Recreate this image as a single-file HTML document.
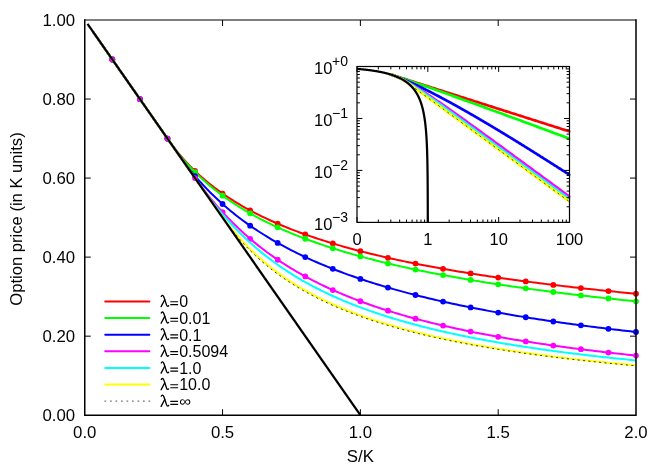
<!DOCTYPE html>
<html><head><meta charset="utf-8"><title>Option price</title>
<style>html,body{margin:0;padding:0;background:#fff;}svg{display:block;}text{font-family:"Liberation Sans",sans-serif;fill:#000;}.t{opacity:0.999;}</style></head><body>
<svg width="664" height="465">
<rect width="664" height="465" fill="#fff"/>
<g fill="none" stroke-linejoin="round" stroke-linecap="butt">
<path d="M93.02,31.86 L94.34,33.75 L95.66,35.64 L96.98,37.53 L98.30,39.43 L99.62,41.32 L100.94,43.21 L102.26,45.11 L103.58,47.00 L104.90,48.89 L106.22,50.79 L107.54,52.68 L108.86,54.57 L110.18,56.46 L111.50,58.36 L112.82,60.25 L114.14,62.14 L115.46,64.04 L116.78,65.93 L118.10,67.82 L119.42,69.72 L120.74,71.61 L122.06,73.50 L123.38,75.39 L124.70,77.29 L126.02,79.18 L127.34,81.07 L128.66,82.97 L129.98,84.86 L131.31,86.75 L132.63,88.65 L133.95,90.54 L135.27,92.43 L136.59,94.32 L137.91,96.22 L139.23,98.11 L140.55,100.00 L141.87,101.90 L143.19,103.79 L144.51,105.68 L145.83,107.57 L147.15,109.47 L148.47,111.36 L149.79,113.25 L151.11,115.15 L152.43,117.04 L153.75,118.93 L155.07,120.83 L156.39,122.72 L157.71,124.61 L159.03,126.50 L160.35,128.40 L161.67,130.29 L162.99,132.18 L164.31,134.08 L165.63,135.97 L166.95,137.86 L168.27,139.76 L169.59,141.62 L170.91,143.45 L172.23,145.24 L173.55,146.99 L174.87,148.70 L176.19,150.38 L177.51,152.02 L178.83,153.63 L180.15,155.21 L181.47,156.75 L182.79,158.27 L184.11,159.76 L185.43,161.21 L186.75,162.65 L188.07,164.05 L189.39,165.43 L190.72,166.79 L192.04,168.12 L193.36,169.43 L194.68,170.71 L196.00,171.98 L197.32,173.22 L198.64,174.44 L199.96,175.64 L201.28,176.82 L202.60,177.99 L203.92,179.13 L205.24,180.26 L206.56,181.36 L207.88,182.46 L209.20,183.53 L210.52,184.59 L211.84,185.63 L213.16,186.66 L214.48,187.67 L215.80,188.67 L217.12,189.65 L218.44,190.62 L219.76,191.58 L221.08,192.52 L222.40,193.45 L223.72,194.37 L225.04,195.27 L226.36,196.16 L227.68,197.04 L229.00,197.91 L230.32,198.77 L231.64,199.62 L232.96,200.45 L234.28,201.28 L235.60,202.09 L236.92,202.90 L238.24,203.69 L239.56,204.47 L240.88,205.25 L242.20,206.02 L243.52,206.77 L244.84,207.52 L246.16,208.26 L247.48,208.99 L248.80,209.71 L250.12,210.42 L252.88,211.89 L255.64,213.32 L258.39,214.71 L261.15,216.08 L263.91,217.42 L266.66,218.72 L269.42,220.00 L272.17,221.25 L274.93,222.48 L277.69,223.68 L280.44,224.85 L283.20,226.00 L285.96,227.13 L288.71,228.24 L291.47,229.33 L294.23,230.39 L296.98,231.44 L299.74,232.46 L302.49,233.47 L305.25,234.46 L308.01,235.43 L310.76,236.39 L313.52,237.32 L316.27,238.25 L319.03,239.15 L321.79,240.04 L324.54,240.92 L327.30,241.78 L330.06,242.63 L332.81,243.47 L335.57,244.29 L338.32,245.10 L341.08,245.89 L343.84,246.68 L346.59,247.45 L349.35,248.21 L352.11,248.96 L354.86,249.70 L357.62,250.43 L360.38,251.14 L363.13,251.85 L365.89,252.55 L368.64,253.23 L371.40,253.91 L374.16,254.58 L376.91,255.24 L379.67,255.89 L382.43,256.53 L385.18,257.17 L387.94,257.79 L390.69,258.41 L393.45,259.02 L396.21,259.62 L398.96,260.21 L401.72,260.80 L404.48,261.38 L407.23,261.95 L409.99,262.51 L412.74,263.07 L415.50,263.62 L418.26,264.17 L421.01,264.71 L423.77,265.24 L426.52,265.77 L429.28,266.29 L432.04,266.80 L434.79,267.31 L437.55,267.81 L440.31,268.31 L443.06,268.80 L445.82,269.28 L448.57,269.77 L451.33,270.24 L454.09,270.71 L456.84,271.18 L459.60,271.64 L462.36,272.09 L465.11,272.54 L467.87,272.99 L470.62,273.43 L473.38,273.87 L476.14,274.30 L478.89,274.73 L481.65,275.16 L484.41,275.58 L487.16,275.99 L489.92,276.40 L492.68,276.81 L495.43,277.21 L498.19,277.61 L500.94,278.01 L503.70,278.40 L506.46,278.79 L509.21,279.18 L511.97,279.56 L514.73,279.94 L517.48,280.31 L520.24,280.68 L522.99,281.05 L525.75,281.41 L528.51,281.78 L531.26,282.13 L534.02,282.49 L536.78,282.84 L539.53,283.19 L542.29,283.54 L545.04,283.88 L547.80,284.22 L550.56,284.55 L553.31,284.89 L556.07,285.22 L558.83,285.55 L561.58,285.87 L564.34,286.20 L567.09,286.52 L569.85,286.84 L572.61,287.15 L575.36,287.46 L578.12,287.77 L580.88,288.08 L583.63,288.39 L586.39,288.69 L589.14,288.99 L591.90,289.29 L594.66,289.58 L597.41,289.88 L600.17,290.17 L602.92,290.46 L605.68,290.75 L608.44,291.03 L611.19,291.31 L613.95,291.59 L616.71,291.87 L619.46,292.15 L622.22,292.42 L624.98,292.69 L627.73,292.96 L630.49,293.23 L633.24,293.50 L636.00,293.76" stroke="#ff0000" stroke-width="2"/>
<circle cx="112.31" cy="59.52" r="2.9" fill="#ff0000" stroke="none"/>
<circle cx="139.88" cy="99.04" r="2.9" fill="#ff0000" stroke="none"/>
<circle cx="167.44" cy="138.56" r="2.9" fill="#ff0000" stroke="none"/>
<circle cx="195.00" cy="171.02" r="2.9" fill="#ff0000" stroke="none"/>
<circle cx="222.56" cy="193.56" r="2.9" fill="#ff0000" stroke="none"/>
<circle cx="250.12" cy="210.42" r="2.9" fill="#ff0000" stroke="none"/>
<circle cx="277.69" cy="223.68" r="2.9" fill="#ff0000" stroke="none"/>
<circle cx="305.25" cy="234.46" r="2.9" fill="#ff0000" stroke="none"/>
<circle cx="332.81" cy="243.47" r="2.9" fill="#ff0000" stroke="none"/>
<circle cx="360.38" cy="251.14" r="2.9" fill="#ff0000" stroke="none"/>
<circle cx="387.94" cy="257.79" r="2.9" fill="#ff0000" stroke="none"/>
<circle cx="415.50" cy="263.62" r="2.9" fill="#ff0000" stroke="none"/>
<circle cx="443.06" cy="268.80" r="2.9" fill="#ff0000" stroke="none"/>
<circle cx="470.62" cy="273.43" r="2.9" fill="#ff0000" stroke="none"/>
<circle cx="498.19" cy="277.61" r="2.9" fill="#ff0000" stroke="none"/>
<circle cx="525.75" cy="281.41" r="2.9" fill="#ff0000" stroke="none"/>
<circle cx="553.31" cy="284.89" r="2.9" fill="#ff0000" stroke="none"/>
<circle cx="580.88" cy="288.08" r="2.9" fill="#ff0000" stroke="none"/>
<circle cx="608.44" cy="291.03" r="2.9" fill="#ff0000" stroke="none"/>
<circle cx="636.00" cy="293.76" r="2.9" fill="#ff0000" stroke="none"/>
<path d="M93.02,31.86 L94.34,33.75 L95.66,35.64 L96.98,37.53 L98.30,39.43 L99.62,41.32 L100.94,43.21 L102.26,45.11 L103.58,47.00 L104.90,48.89 L106.22,50.79 L107.54,52.68 L108.86,54.57 L110.18,56.46 L111.50,58.36 L112.82,60.25 L114.14,62.14 L115.46,64.04 L116.78,65.93 L118.10,67.82 L119.42,69.72 L120.74,71.61 L122.06,73.50 L123.38,75.39 L124.70,77.29 L126.02,79.18 L127.34,81.07 L128.66,82.97 L129.98,84.86 L131.31,86.75 L132.63,88.65 L133.95,90.54 L135.27,92.43 L136.59,94.32 L137.91,96.22 L139.23,98.11 L140.55,100.00 L141.87,101.90 L143.19,103.79 L144.51,105.68 L145.83,107.57 L147.15,109.47 L148.47,111.36 L149.79,113.25 L151.11,115.15 L152.43,117.04 L153.75,118.93 L155.07,120.83 L156.39,122.72 L157.71,124.61 L159.03,126.50 L160.35,128.40 L161.67,130.29 L162.99,132.18 L164.31,134.08 L165.63,135.97 L166.95,137.86 L168.27,139.76 L169.59,141.65 L170.91,143.53 L172.23,145.38 L173.55,147.18 L174.87,148.95 L176.19,150.68 L177.51,152.38 L178.83,154.05 L180.15,155.68 L181.47,157.28 L182.79,158.85 L184.11,160.39 L185.43,161.90 L186.75,163.39 L188.07,164.85 L189.39,166.28 L190.72,167.69 L192.04,169.07 L193.36,170.43 L194.68,171.77 L196.00,173.08 L197.32,174.38 L198.64,175.65 L199.96,176.90 L201.28,178.13 L202.60,179.35 L203.92,180.54 L205.24,181.72 L206.56,182.87 L207.88,184.01 L209.20,185.14 L210.52,186.24 L211.84,187.33 L213.16,188.41 L214.48,189.47 L215.80,190.51 L217.12,191.54 L218.44,192.56 L219.76,193.56 L221.08,194.55 L222.40,195.52 L223.72,196.48 L225.04,197.43 L226.36,198.37 L227.68,199.29 L229.00,200.21 L230.32,201.11 L231.64,202.00 L232.96,202.87 L234.28,203.74 L235.60,204.60 L236.92,205.44 L238.24,206.28 L239.56,207.11 L240.88,207.92 L242.20,208.73 L243.52,209.52 L244.84,210.31 L246.16,211.09 L247.48,211.86 L248.80,212.62 L250.12,213.37 L252.88,214.91 L255.64,216.42 L258.39,217.89 L261.15,219.34 L263.91,220.74 L266.66,222.12 L269.42,223.47 L272.17,224.79 L274.93,226.09 L277.69,227.35 L280.44,228.60 L283.20,229.81 L285.96,231.01 L288.71,232.18 L291.47,233.33 L294.23,234.45 L296.98,235.56 L299.74,236.64 L302.49,237.71 L305.25,238.75 L308.01,239.78 L310.76,240.79 L313.52,241.79 L316.27,242.76 L319.03,243.72 L321.79,244.66 L324.54,245.59 L327.30,246.50 L330.06,247.40 L332.81,248.28 L335.57,249.15 L338.32,250.01 L341.08,250.85 L343.84,251.68 L346.59,252.50 L349.35,253.30 L352.11,254.10 L354.86,254.88 L357.62,255.65 L360.38,256.41 L363.13,257.15 L365.89,257.89 L368.64,258.62 L371.40,259.34 L374.16,260.04 L376.91,260.74 L379.67,261.43 L382.43,262.11 L385.18,262.78 L387.94,263.44 L390.69,264.09 L393.45,264.74 L396.21,265.37 L398.96,266.00 L401.72,266.62 L404.48,267.23 L407.23,267.84 L409.99,268.43 L412.74,269.02 L415.50,269.61 L418.26,270.18 L421.01,270.75 L423.77,271.31 L426.52,271.87 L429.28,272.42 L432.04,272.96 L434.79,273.50 L437.55,274.03 L440.31,274.55 L443.06,275.07 L445.82,275.59 L448.57,276.09 L451.33,276.59 L454.09,277.09 L456.84,277.58 L459.60,278.07 L462.36,278.55 L465.11,279.02 L467.87,279.50 L470.62,279.96 L473.38,280.42 L476.14,280.88 L478.89,281.33 L481.65,281.78 L484.41,282.22 L487.16,282.66 L489.92,283.09 L492.68,283.52 L495.43,283.95 L498.19,284.37 L500.94,284.79 L503.70,285.20 L506.46,285.61 L509.21,286.02 L511.97,286.42 L514.73,286.81 L517.48,287.21 L520.24,287.60 L522.99,287.99 L525.75,288.37 L528.51,288.75 L531.26,289.13 L534.02,289.50 L536.78,289.87 L539.53,290.24 L542.29,290.60 L545.04,290.96 L547.80,291.32 L550.56,291.67 L553.31,292.02 L556.07,292.37 L558.83,292.72 L561.58,293.06 L564.34,293.40 L567.09,293.73 L569.85,294.07 L572.61,294.40 L575.36,294.73 L578.12,295.05 L580.88,295.38 L583.63,295.70 L586.39,296.01 L589.14,296.33 L591.90,296.64 L594.66,296.95 L597.41,297.26 L600.17,297.57 L602.92,297.87 L605.68,298.17 L608.44,298.47 L611.19,298.76 L613.95,299.06 L616.71,299.35 L619.46,299.64 L622.22,299.93 L624.98,300.21 L627.73,300.50 L630.49,300.78 L633.24,301.06 L636.00,301.33" stroke="#00ff00" stroke-width="2"/>
<circle cx="112.31" cy="59.52" r="2.9" fill="#00ff00" stroke="none"/>
<circle cx="139.88" cy="99.04" r="2.9" fill="#00ff00" stroke="none"/>
<circle cx="167.44" cy="138.56" r="2.9" fill="#00ff00" stroke="none"/>
<circle cx="195.00" cy="172.09" r="2.9" fill="#00ff00" stroke="none"/>
<circle cx="222.56" cy="195.64" r="2.9" fill="#00ff00" stroke="none"/>
<circle cx="250.12" cy="213.37" r="2.9" fill="#00ff00" stroke="none"/>
<circle cx="277.69" cy="227.35" r="2.9" fill="#00ff00" stroke="none"/>
<circle cx="305.25" cy="238.75" r="2.9" fill="#00ff00" stroke="none"/>
<circle cx="332.81" cy="248.28" r="2.9" fill="#00ff00" stroke="none"/>
<circle cx="360.38" cy="256.41" r="2.9" fill="#00ff00" stroke="none"/>
<circle cx="387.94" cy="263.44" r="2.9" fill="#00ff00" stroke="none"/>
<circle cx="415.50" cy="269.61" r="2.9" fill="#00ff00" stroke="none"/>
<circle cx="443.06" cy="275.07" r="2.9" fill="#00ff00" stroke="none"/>
<circle cx="470.62" cy="279.96" r="2.9" fill="#00ff00" stroke="none"/>
<circle cx="498.19" cy="284.37" r="2.9" fill="#00ff00" stroke="none"/>
<circle cx="525.75" cy="288.37" r="2.9" fill="#00ff00" stroke="none"/>
<circle cx="553.31" cy="292.02" r="2.9" fill="#00ff00" stroke="none"/>
<circle cx="580.88" cy="295.38" r="2.9" fill="#00ff00" stroke="none"/>
<circle cx="608.44" cy="298.47" r="2.9" fill="#00ff00" stroke="none"/>
<circle cx="636.00" cy="301.33" r="2.9" fill="#00ff00" stroke="none"/>
<path d="M93.02,31.86 L94.34,33.75 L95.66,35.64 L96.98,37.53 L98.30,39.43 L99.62,41.32 L100.94,43.21 L102.26,45.11 L103.58,47.00 L104.90,48.89 L106.22,50.79 L107.54,52.68 L108.86,54.57 L110.18,56.46 L111.50,58.36 L112.82,60.25 L114.14,62.14 L115.46,64.04 L116.78,65.93 L118.10,67.82 L119.42,69.72 L120.74,71.61 L122.06,73.50 L123.38,75.39 L124.70,77.29 L126.02,79.18 L127.34,81.07 L128.66,82.97 L129.98,84.86 L131.31,86.75 L132.63,88.65 L133.95,90.54 L135.27,92.43 L136.59,94.32 L137.91,96.22 L139.23,98.11 L140.55,100.00 L141.87,101.90 L143.19,103.79 L144.51,105.68 L145.83,107.57 L147.15,109.47 L148.47,111.36 L149.79,113.25 L151.11,115.15 L152.43,117.04 L153.75,118.93 L155.07,120.83 L156.39,122.72 L157.71,124.61 L159.03,126.50 L160.35,128.40 L161.67,130.29 L162.99,132.18 L164.31,134.08 L165.63,135.97 L166.95,137.86 L168.27,139.76 L169.59,141.65 L170.91,143.54 L172.23,145.43 L173.55,147.33 L174.87,149.22 L176.19,151.11 L177.51,153.01 L178.83,154.90 L180.15,156.79 L181.47,158.65 L182.79,160.47 L184.11,162.27 L185.43,164.04 L186.75,165.78 L188.07,167.49 L189.39,169.17 L190.72,170.83 L192.04,172.46 L193.36,174.07 L194.68,175.65 L196.00,177.03 L197.32,178.56 L198.64,180.06 L199.96,181.55 L201.28,183.01 L202.60,184.45 L203.92,185.87 L205.24,187.27 L206.56,188.65 L207.88,190.02 L209.20,191.36 L210.52,192.69 L211.84,194.00 L213.16,195.29 L214.48,196.56 L215.80,197.82 L217.12,199.06 L218.44,200.29 L219.76,201.50 L221.08,202.70 L222.40,203.88 L223.72,205.04 L225.04,206.20 L226.36,207.33 L227.68,208.46 L229.00,209.57 L230.32,210.66 L231.64,211.75 L232.96,212.82 L234.28,213.88 L235.60,214.92 L236.92,215.96 L238.24,216.98 L239.56,217.99 L240.88,218.99 L242.20,219.98 L243.52,220.96 L244.84,221.92 L246.16,222.88 L247.48,223.82 L248.80,224.76 L250.12,225.68 L252.88,227.58 L255.64,229.43 L258.39,231.25 L261.15,233.03 L263.91,234.76 L266.66,236.47 L269.42,238.13 L272.17,239.77 L274.93,241.37 L277.69,242.94 L280.44,244.47 L283.20,245.98 L285.96,247.46 L288.71,248.91 L291.47,250.33 L294.23,251.73 L296.98,253.10 L299.74,254.44 L302.49,255.76 L305.25,257.06 L308.01,258.34 L310.76,259.59 L313.52,260.82 L316.27,262.03 L319.03,263.22 L321.79,264.39 L324.54,265.54 L327.30,266.67 L330.06,267.78 L332.81,268.87 L335.57,269.95 L338.32,271.01 L341.08,272.05 L343.84,273.07 L346.59,274.08 L349.35,275.08 L352.11,276.05 L354.86,277.02 L357.62,277.97 L360.38,278.90 L363.13,279.82 L365.89,280.73 L368.64,281.62 L371.40,282.50 L374.16,283.37 L376.91,284.22 L379.67,285.07 L382.43,285.90 L385.18,286.72 L387.94,287.53 L390.69,288.32 L393.45,289.11 L396.21,289.88 L398.96,290.65 L401.72,291.40 L404.48,292.15 L407.23,292.88 L409.99,293.60 L412.74,294.32 L415.50,295.02 L418.26,295.72 L421.01,296.41 L423.77,297.09 L426.52,297.76 L429.28,298.42 L432.04,299.07 L434.79,299.72 L437.55,300.35 L440.31,300.98 L443.06,301.60 L445.82,302.22 L448.57,302.82 L451.33,303.42 L454.09,304.02 L456.84,304.60 L459.60,305.18 L462.36,305.75 L465.11,306.32 L467.87,306.87 L470.62,307.43 L473.38,307.97 L476.14,308.51 L478.89,309.04 L481.65,309.57 L484.41,310.09 L487.16,310.61 L489.92,311.12 L492.68,311.62 L495.43,312.12 L498.19,312.62 L500.94,313.10 L503.70,313.59 L506.46,314.06 L509.21,314.54 L511.97,315.01 L514.73,315.47 L517.48,315.93 L520.24,316.38 L522.99,316.83 L525.75,317.27 L528.51,317.71 L531.26,318.15 L534.02,318.58 L536.78,319.01 L539.53,319.43 L542.29,319.85 L545.04,320.26 L547.80,320.67 L550.56,321.08 L553.31,321.48 L556.07,321.88 L558.83,322.27 L561.58,322.66 L564.34,323.05 L567.09,323.43 L569.85,323.81 L572.61,324.19 L575.36,324.56 L578.12,324.93 L580.88,325.30 L583.63,325.66 L586.39,326.02 L589.14,326.38 L591.90,326.73 L594.66,327.08 L597.41,327.43 L600.17,327.77 L602.92,328.11 L605.68,328.45 L608.44,328.78 L611.19,329.12 L613.95,329.44 L616.71,329.77 L619.46,330.09 L622.22,330.41 L624.98,330.73 L627.73,331.05 L630.49,331.36 L633.24,331.67 L636.00,331.98" stroke="#0000ff" stroke-width="2"/>
<circle cx="112.31" cy="59.52" r="2.9" fill="#0000ff" stroke="none"/>
<circle cx="139.88" cy="99.04" r="2.9" fill="#0000ff" stroke="none"/>
<circle cx="167.44" cy="138.56" r="2.9" fill="#0000ff" stroke="none"/>
<circle cx="195.00" cy="176.03" r="2.9" fill="#0000ff" stroke="none"/>
<circle cx="222.56" cy="204.02" r="2.9" fill="#0000ff" stroke="none"/>
<circle cx="250.12" cy="225.68" r="2.9" fill="#0000ff" stroke="none"/>
<circle cx="277.69" cy="242.94" r="2.9" fill="#0000ff" stroke="none"/>
<circle cx="305.25" cy="257.06" r="2.9" fill="#0000ff" stroke="none"/>
<circle cx="332.81" cy="268.87" r="2.9" fill="#0000ff" stroke="none"/>
<circle cx="360.38" cy="278.90" r="2.9" fill="#0000ff" stroke="none"/>
<circle cx="387.94" cy="287.53" r="2.9" fill="#0000ff" stroke="none"/>
<circle cx="415.50" cy="295.02" r="2.9" fill="#0000ff" stroke="none"/>
<circle cx="443.06" cy="301.60" r="2.9" fill="#0000ff" stroke="none"/>
<circle cx="470.62" cy="307.43" r="2.9" fill="#0000ff" stroke="none"/>
<circle cx="498.19" cy="312.62" r="2.9" fill="#0000ff" stroke="none"/>
<circle cx="525.75" cy="317.27" r="2.9" fill="#0000ff" stroke="none"/>
<circle cx="553.31" cy="321.48" r="2.9" fill="#0000ff" stroke="none"/>
<circle cx="580.88" cy="325.30" r="2.9" fill="#0000ff" stroke="none"/>
<circle cx="608.44" cy="328.78" r="2.9" fill="#0000ff" stroke="none"/>
<circle cx="636.00" cy="331.98" r="2.9" fill="#0000ff" stroke="none"/>
<path d="M93.02,31.86 L94.34,33.75 L95.66,35.64 L96.98,37.53 L98.30,39.43 L99.62,41.32 L100.94,43.21 L102.26,45.11 L103.58,47.00 L104.90,48.89 L106.22,50.79 L107.54,52.68 L108.86,54.57 L110.18,56.46 L111.50,58.36 L112.82,60.25 L114.14,62.14 L115.46,64.04 L116.78,65.93 L118.10,67.82 L119.42,69.72 L120.74,71.61 L122.06,73.50 L123.38,75.39 L124.70,77.29 L126.02,79.18 L127.34,81.07 L128.66,82.97 L129.98,84.86 L131.31,86.75 L132.63,88.65 L133.95,90.54 L135.27,92.43 L136.59,94.32 L137.91,96.22 L139.23,98.11 L140.55,100.00 L141.87,101.90 L143.19,103.79 L144.51,105.68 L145.83,107.57 L147.15,109.47 L148.47,111.36 L149.79,113.25 L151.11,115.15 L152.43,117.04 L153.75,118.93 L155.07,120.83 L156.39,122.72 L157.71,124.61 L159.03,126.50 L160.35,128.40 L161.67,130.29 L162.99,132.18 L164.31,134.08 L165.63,135.97 L166.95,137.86 L168.27,139.76 L169.59,141.65 L170.91,143.54 L172.23,145.43 L173.55,147.33 L174.87,149.22 L176.19,151.11 L177.51,153.01 L178.83,154.90 L180.15,156.79 L181.47,158.69 L182.79,160.58 L184.11,162.47 L185.43,164.36 L186.75,166.26 L188.07,168.15 L189.39,170.04 L190.72,171.94 L192.04,173.83 L193.36,175.72 L194.68,177.59 L196.00,179.44 L197.32,181.26 L198.64,183.06 L199.96,184.84 L201.28,186.59 L202.60,188.32 L203.92,190.04 L205.24,191.73 L206.56,193.40 L207.88,195.05 L209.20,196.68 L210.52,198.29 L211.84,199.88 L213.16,201.46 L214.48,203.01 L215.80,204.55 L217.12,206.07 L218.44,207.57 L219.76,209.06 L221.08,210.52 L222.40,211.97 L223.72,213.41 L225.04,214.82 L226.36,216.22 L227.68,217.61 L229.00,218.97 L230.32,220.32 L231.64,221.66 L232.96,222.98 L234.28,224.28 L235.60,225.57 L236.92,226.84 L238.24,228.10 L239.56,229.35 L240.88,230.58 L242.20,231.79 L243.52,232.99 L244.84,234.18 L246.16,235.35 L247.48,236.51 L248.80,237.66 L250.12,238.79 L252.88,241.11 L255.64,243.38 L258.39,245.60 L261.15,247.76 L263.91,249.87 L266.66,251.94 L269.42,253.95 L272.17,255.92 L274.93,257.85 L277.69,259.73 L280.44,261.57 L283.20,263.37 L285.96,265.14 L288.71,266.86 L291.47,268.54 L294.23,270.19 L296.98,271.81 L299.74,273.39 L302.49,274.94 L305.25,276.45 L308.01,277.94 L310.76,279.39 L313.52,280.82 L316.27,282.21 L319.03,283.58 L321.79,284.93 L324.54,286.24 L327.30,287.53 L330.06,288.80 L332.81,290.04 L335.57,291.26 L338.32,292.45 L341.08,293.63 L343.84,294.78 L346.59,295.91 L349.35,297.02 L352.11,298.11 L354.86,299.18 L357.62,300.23 L360.38,301.27 L363.13,302.28 L365.89,303.28 L368.64,304.26 L371.40,305.23 L374.16,306.18 L376.91,307.11 L379.67,308.03 L382.43,308.93 L385.18,309.82 L387.94,310.69 L390.69,311.55 L393.45,312.39 L396.21,313.22 L398.96,314.04 L401.72,314.85 L404.48,315.64 L407.23,316.42 L409.99,317.19 L412.74,317.95 L415.50,318.69 L418.26,319.43 L421.01,320.15 L423.77,320.87 L426.52,321.57 L429.28,322.26 L432.04,322.94 L434.79,323.62 L437.55,324.28 L440.31,324.93 L443.06,325.58 L445.82,326.21 L448.57,326.84 L451.33,327.46 L454.09,328.07 L456.84,328.67 L459.60,329.26 L462.36,329.85 L465.11,330.42 L467.87,330.99 L470.62,331.56 L473.38,332.11 L476.14,332.66 L478.89,333.20 L481.65,333.73 L484.41,334.26 L487.16,334.78 L489.92,335.29 L492.68,335.80 L495.43,336.30 L498.19,336.79 L500.94,337.28 L503.70,337.77 L506.46,338.24 L509.21,338.71 L511.97,339.18 L514.73,339.64 L517.48,340.09 L520.24,340.54 L522.99,340.98 L525.75,341.42 L528.51,341.86 L531.26,342.28 L534.02,342.71 L536.78,343.12 L539.53,343.54 L542.29,343.95 L545.04,344.35 L547.80,344.75 L550.56,345.15 L553.31,345.54 L556.07,345.92 L558.83,346.31 L561.58,346.69 L564.34,347.06 L567.09,347.43 L569.85,347.80 L572.61,348.16 L575.36,348.52 L578.12,348.87 L580.88,349.22 L583.63,349.57 L586.39,349.91 L589.14,350.25 L591.90,350.59 L594.66,350.92 L597.41,351.25 L600.17,351.58 L602.92,351.90 L605.68,352.22 L608.44,352.54 L611.19,352.85 L613.95,353.16 L616.71,353.47 L619.46,353.78 L622.22,354.08 L624.98,354.38 L627.73,354.67 L630.49,354.96 L633.24,355.25 L636.00,355.54" stroke="#ff00ff" stroke-width="2"/>
<circle cx="112.31" cy="59.52" r="2.9" fill="#ff00ff" stroke="none"/>
<circle cx="139.88" cy="99.04" r="2.9" fill="#ff00ff" stroke="none"/>
<circle cx="167.44" cy="138.56" r="2.9" fill="#ff00ff" stroke="none"/>
<circle cx="195.00" cy="178.05" r="2.9" fill="#ff00ff" stroke="none"/>
<circle cx="222.56" cy="212.15" r="2.9" fill="#ff00ff" stroke="none"/>
<circle cx="250.12" cy="238.79" r="2.9" fill="#ff00ff" stroke="none"/>
<circle cx="277.69" cy="259.73" r="2.9" fill="#ff00ff" stroke="none"/>
<circle cx="305.25" cy="276.45" r="2.9" fill="#ff00ff" stroke="none"/>
<circle cx="332.81" cy="290.04" r="2.9" fill="#ff00ff" stroke="none"/>
<circle cx="360.38" cy="301.27" r="2.9" fill="#ff00ff" stroke="none"/>
<circle cx="387.94" cy="310.69" r="2.9" fill="#ff00ff" stroke="none"/>
<circle cx="415.50" cy="318.69" r="2.9" fill="#ff00ff" stroke="none"/>
<circle cx="443.06" cy="325.58" r="2.9" fill="#ff00ff" stroke="none"/>
<circle cx="470.62" cy="331.56" r="2.9" fill="#ff00ff" stroke="none"/>
<circle cx="498.19" cy="336.79" r="2.9" fill="#ff00ff" stroke="none"/>
<circle cx="525.75" cy="341.42" r="2.9" fill="#ff00ff" stroke="none"/>
<circle cx="553.31" cy="345.54" r="2.9" fill="#ff00ff" stroke="none"/>
<circle cx="580.88" cy="349.22" r="2.9" fill="#ff00ff" stroke="none"/>
<circle cx="608.44" cy="352.54" r="2.9" fill="#ff00ff" stroke="none"/>
<circle cx="636.00" cy="355.54" r="2.9" fill="#ff00ff" stroke="none"/>
<path d="M93.02,31.86 L94.34,33.75 L95.66,35.64 L96.98,37.53 L98.30,39.43 L99.62,41.32 L100.94,43.21 L102.26,45.11 L103.58,47.00 L104.90,48.89 L106.22,50.79 L107.54,52.68 L108.86,54.57 L110.18,56.46 L111.50,58.36 L112.82,60.25 L114.14,62.14 L115.46,64.04 L116.78,65.93 L118.10,67.82 L119.42,69.72 L120.74,71.61 L122.06,73.50 L123.38,75.39 L124.70,77.29 L126.02,79.18 L127.34,81.07 L128.66,82.97 L129.98,84.86 L131.31,86.75 L132.63,88.65 L133.95,90.54 L135.27,92.43 L136.59,94.32 L137.91,96.22 L139.23,98.11 L140.55,100.00 L141.87,101.90 L143.19,103.79 L144.51,105.68 L145.83,107.57 L147.15,109.47 L148.47,111.36 L149.79,113.25 L151.11,115.15 L152.43,117.04 L153.75,118.93 L155.07,120.83 L156.39,122.72 L157.71,124.61 L159.03,126.50 L160.35,128.40 L161.67,130.29 L162.99,132.18 L164.31,134.08 L165.63,135.97 L166.95,137.86 L168.27,139.76 L169.59,141.65 L170.91,143.54 L172.23,145.43 L173.55,147.33 L174.87,149.22 L176.19,151.11 L177.51,153.01 L178.83,154.90 L180.15,156.79 L181.47,158.69 L182.79,160.58 L184.11,162.47 L185.43,164.36 L186.75,166.26 L188.07,168.15 L189.39,170.04 L190.72,171.94 L192.04,173.83 L193.36,175.72 L194.68,177.62 L196.00,179.51 L197.32,181.40 L198.64,183.29 L199.96,185.17 L201.28,187.03 L202.60,188.87 L203.92,190.68 L205.24,192.48 L206.56,194.25 L207.88,196.01 L209.20,197.74 L210.52,199.45 L211.84,201.15 L213.16,202.83 L214.48,204.48 L215.80,206.12 L217.12,207.74 L218.44,209.35 L219.76,210.93 L221.08,212.50 L222.40,214.05 L223.72,215.58 L225.04,217.09 L226.36,218.58 L227.68,220.06 L229.00,221.52 L230.32,222.96 L231.64,224.39 L232.96,225.80 L234.28,227.19 L235.60,228.57 L236.92,229.92 L238.24,231.27 L239.56,232.59 L240.88,233.90 L242.20,235.19 L243.52,236.47 L244.84,237.73 L246.16,238.98 L247.48,240.21 L248.80,241.43 L250.12,242.63 L252.88,245.10 L255.64,247.50 L258.39,249.84 L261.15,252.12 L263.91,254.35 L266.66,256.53 L269.42,258.65 L272.17,260.72 L274.93,262.74 L277.69,264.71 L280.44,266.63 L283.20,268.51 L285.96,270.35 L288.71,272.14 L291.47,273.89 L294.23,275.61 L296.98,277.28 L299.74,278.92 L302.49,280.52 L305.25,282.08 L308.01,283.61 L310.76,285.11 L313.52,286.58 L316.27,288.01 L319.03,289.42 L321.79,290.79 L324.54,292.14 L327.30,293.45 L330.06,294.75 L332.81,296.01 L335.57,297.25 L338.32,298.47 L341.08,299.66 L343.84,300.83 L346.59,301.97 L349.35,303.10 L352.11,304.20 L354.86,305.28 L357.62,306.34 L360.38,307.38 L363.13,308.41 L365.89,309.41 L368.64,310.40 L371.40,311.36 L374.16,312.31 L376.91,313.25 L379.67,314.17 L382.43,315.07 L385.18,315.95 L387.94,316.82 L390.69,317.68 L393.45,318.52 L396.21,319.35 L398.96,320.16 L401.72,320.96 L404.48,321.75 L407.23,322.52 L409.99,323.28 L412.74,324.03 L415.50,324.77 L418.26,325.50 L421.01,326.21 L423.77,326.92 L426.52,327.61 L429.28,328.29 L432.04,328.96 L434.79,329.62 L437.55,330.28 L440.31,330.92 L443.06,331.55 L445.82,332.17 L448.57,332.79 L451.33,333.39 L454.09,333.99 L456.84,334.58 L459.60,335.16 L462.36,335.73 L465.11,336.29 L467.87,336.85 L470.62,337.40 L473.38,337.94 L476.14,338.47 L478.89,338.99 L481.65,339.51 L484.41,340.03 L487.16,340.53 L489.92,341.03 L492.68,341.52 L495.43,342.01 L498.19,342.49 L500.94,342.96 L503.70,343.43 L506.46,343.89 L509.21,344.34 L511.97,344.79 L514.73,345.24 L517.48,345.67 L520.24,346.11 L522.99,346.53 L525.75,346.96 L528.51,347.37 L531.26,347.79 L534.02,348.19 L536.78,348.60 L539.53,348.99 L542.29,349.39 L545.04,349.78 L547.80,350.16 L550.56,350.54 L553.31,350.91 L556.07,351.28 L558.83,351.65 L561.58,352.01 L564.34,352.37 L567.09,352.73 L569.85,353.08 L572.61,353.42 L575.36,353.77 L578.12,354.11 L580.88,354.44 L583.63,354.77 L586.39,355.10 L589.14,355.43 L591.90,355.75 L594.66,356.06 L597.41,356.38 L600.17,356.69 L602.92,357.00 L605.68,357.30 L608.44,357.60 L611.19,357.90 L613.95,358.20 L616.71,358.49 L619.46,358.78 L622.22,359.06 L624.98,359.35 L627.73,359.63 L630.49,359.91 L633.24,360.18 L636.00,360.45" stroke="#00ffff" stroke-width="2"/>
<path d="M93.02,31.86 L94.34,33.75 L95.66,35.64 L96.98,37.53 L98.30,39.43 L99.62,41.32 L100.94,43.21 L102.26,45.11 L103.58,47.00 L104.90,48.89 L106.22,50.79 L107.54,52.68 L108.86,54.57 L110.18,56.46 L111.50,58.36 L112.82,60.25 L114.14,62.14 L115.46,64.04 L116.78,65.93 L118.10,67.82 L119.42,69.72 L120.74,71.61 L122.06,73.50 L123.38,75.39 L124.70,77.29 L126.02,79.18 L127.34,81.07 L128.66,82.97 L129.98,84.86 L131.31,86.75 L132.63,88.65 L133.95,90.54 L135.27,92.43 L136.59,94.32 L137.91,96.22 L139.23,98.11 L140.55,100.00 L141.87,101.90 L143.19,103.79 L144.51,105.68 L145.83,107.57 L147.15,109.47 L148.47,111.36 L149.79,113.25 L151.11,115.15 L152.43,117.04 L153.75,118.93 L155.07,120.83 L156.39,122.72 L157.71,124.61 L159.03,126.50 L160.35,128.40 L161.67,130.29 L162.99,132.18 L164.31,134.08 L165.63,135.97 L166.95,137.86 L168.27,139.76 L169.59,141.65 L170.91,143.54 L172.23,145.43 L173.55,147.33 L174.87,149.22 L176.19,151.11 L177.51,153.01 L178.83,154.90 L180.15,156.79 L181.47,158.69 L182.79,160.58 L184.11,162.47 L185.43,164.36 L186.75,166.26 L188.07,168.15 L189.39,170.04 L190.72,171.94 L192.04,173.83 L193.36,175.72 L194.68,177.62 L196.00,179.51 L197.32,181.40 L198.64,183.29 L199.96,185.19 L201.28,187.08 L202.60,188.97 L203.92,190.87 L205.24,192.76 L206.56,194.65 L207.88,196.54 L209.20,198.44 L210.52,200.33 L211.84,202.22 L213.16,204.12 L214.48,206.00 L215.80,207.86 L217.12,209.71 L218.44,211.53 L219.76,213.34 L221.08,215.13 L222.40,216.91 L223.72,218.66 L225.04,220.39 L226.36,222.10 L227.68,223.79 L229.00,225.45 L230.32,227.09 L231.64,228.71 L232.96,230.31 L234.28,231.89 L235.60,233.44 L236.92,234.97 L238.24,236.48 L239.56,237.96 L240.88,239.42 L242.20,240.87 L243.52,242.29 L244.84,243.69 L246.16,245.06 L247.48,246.42 L248.80,247.76 L250.12,249.08 L252.88,251.77 L255.64,254.38 L258.39,256.91 L261.15,259.36 L263.91,261.74 L266.66,264.05 L269.42,266.30 L272.17,268.48 L274.93,270.60 L277.69,272.66 L280.44,274.66 L283.20,276.60 L285.96,278.50 L288.71,280.34 L291.47,282.14 L294.23,283.88 L296.98,285.59 L299.74,287.25 L302.49,288.87 L305.25,290.44 L308.01,291.98 L310.76,293.48 L313.52,294.95 L316.27,296.38 L319.03,297.78 L321.79,299.14 L324.54,300.47 L327.30,301.78 L330.06,303.05 L332.81,304.30 L335.57,305.52 L338.32,306.71 L341.08,307.87 L343.84,309.02 L346.59,310.13 L349.35,311.23 L352.11,312.30 L354.86,313.35 L357.62,314.38 L360.38,315.39 L363.13,316.37 L365.89,317.34 L368.64,318.29 L371.40,319.22 L374.16,320.14 L376.91,321.04 L379.67,321.92 L382.43,322.78 L385.18,323.63 L387.94,324.46 L390.69,325.28 L393.45,326.08 L396.21,326.87 L398.96,327.64 L401.72,328.40 L404.48,329.15 L407.23,329.89 L409.99,330.61 L412.74,331.32 L415.50,332.02 L418.26,332.71 L421.01,333.38 L423.77,334.05 L426.52,334.70 L429.28,335.35 L432.04,335.98 L434.79,336.61 L437.55,337.22 L440.31,337.82 L443.06,338.42 L445.82,339.01 L448.57,339.58 L451.33,340.15 L454.09,340.71 L456.84,341.26 L459.60,341.81 L462.36,342.34 L465.11,342.87 L467.87,343.39 L470.62,343.90 L473.38,344.41 L476.14,344.91 L478.89,345.40 L481.65,345.88 L484.41,346.36 L487.16,346.83 L489.92,347.30 L492.68,347.76 L495.43,348.21 L498.19,348.66 L500.94,349.10 L503.70,349.53 L506.46,349.96 L509.21,350.38 L511.97,350.80 L514.73,351.22 L517.48,351.62 L520.24,352.03 L522.99,352.42 L525.75,352.82 L528.51,353.20 L531.26,353.59 L534.02,353.96 L536.78,354.34 L539.53,354.71 L542.29,355.07 L545.04,355.43 L547.80,355.79 L550.56,356.14 L553.31,356.49 L556.07,356.83 L558.83,357.17 L561.58,357.50 L564.34,357.83 L567.09,358.16 L569.85,358.49 L572.61,358.81 L575.36,359.12 L578.12,359.44 L580.88,359.75 L583.63,360.05 L586.39,360.36 L589.14,360.66 L591.90,360.95 L594.66,361.25 L597.41,361.54 L600.17,361.82 L602.92,362.11 L605.68,362.39 L608.44,362.67 L611.19,362.94 L613.95,363.21 L616.71,363.48 L619.46,363.75 L622.22,364.01 L624.98,364.27 L627.73,364.53 L630.49,364.79 L633.24,365.04 L636.00,365.29" stroke="#ffff00" stroke-width="2"/>
<path d="M93.02,31.86 L94.34,33.75 L95.66,35.64 L96.98,37.53 L98.30,39.43 L99.62,41.32 L100.94,43.21 L102.26,45.11 L103.58,47.00 L104.90,48.89 L106.22,50.79 L107.54,52.68 L108.86,54.57 L110.18,56.46 L111.50,58.36 L112.82,60.25 L114.14,62.14 L115.46,64.04 L116.78,65.93 L118.10,67.82 L119.42,69.72 L120.74,71.61 L122.06,73.50 L123.38,75.39 L124.70,77.29 L126.02,79.18 L127.34,81.07 L128.66,82.97 L129.98,84.86 L131.31,86.75 L132.63,88.65 L133.95,90.54 L135.27,92.43 L136.59,94.32 L137.91,96.22 L139.23,98.11 L140.55,100.00 L141.87,101.90 L143.19,103.79 L144.51,105.68 L145.83,107.57 L147.15,109.47 L148.47,111.36 L149.79,113.25 L151.11,115.15 L152.43,117.04 L153.75,118.93 L155.07,120.83 L156.39,122.72 L157.71,124.61 L159.03,126.50 L160.35,128.40 L161.67,130.29 L162.99,132.18 L164.31,134.08 L165.63,135.97 L166.95,137.86 L168.27,139.76 L169.59,141.65 L170.91,143.54 L172.23,145.43 L173.55,147.33 L174.87,149.22 L176.19,151.11 L177.51,153.01 L178.83,154.90 L180.15,156.79 L181.47,158.69 L182.79,160.58 L184.11,162.47 L185.43,164.36 L186.75,166.26 L188.07,168.15 L189.39,170.04 L190.72,171.94 L192.04,173.83 L193.36,175.72 L194.68,177.62 L196.00,179.51 L197.32,181.40 L198.64,183.29 L199.96,185.19 L201.28,187.08 L202.60,188.97 L203.92,190.87 L205.24,192.76 L206.56,194.65 L207.88,196.54 L209.20,198.44 L210.52,200.33 L211.84,202.22 L213.16,204.12 L214.48,206.01 L215.80,207.90 L217.12,209.80 L218.44,211.69 L219.76,213.58 L221.08,215.47 L222.40,217.37 L223.72,219.25 L225.04,221.09 L226.36,222.90 L227.68,224.68 L229.00,226.42 L230.32,228.13 L231.64,229.81 L232.96,231.47 L234.28,233.09 L235.60,234.68 L236.92,236.25 L238.24,237.79 L239.56,239.30 L240.88,240.79 L242.20,242.25 L243.52,243.69 L244.84,245.10 L246.16,246.49 L247.48,247.86 L248.80,249.21 L250.12,250.53 L252.88,253.23 L255.64,255.85 L258.39,258.37 L261.15,260.82 L263.91,263.20 L266.66,265.50 L269.42,267.74 L272.17,269.91 L274.93,272.01 L277.69,274.06 L280.44,276.05 L283.20,277.98 L285.96,279.86 L288.71,281.69 L291.47,283.47 L294.23,285.20 L296.98,286.89 L299.74,288.53 L302.49,290.14 L305.25,291.70 L308.01,293.22 L310.76,294.71 L313.52,296.16 L316.27,297.58 L319.03,298.96 L321.79,300.32 L324.54,301.64 L327.30,302.93 L330.06,304.19 L332.81,305.42 L335.57,306.63 L338.32,307.81 L341.08,308.96 L343.84,310.09 L346.59,311.20 L349.35,312.28 L352.11,313.34 L354.86,314.38 L357.62,315.40 L360.38,316.40 L363.13,317.38 L365.89,318.34 L368.64,319.28 L371.40,320.20 L374.16,321.10 L376.91,321.99 L379.67,322.86 L382.43,323.72 L385.18,324.56 L387.94,325.38 L390.69,326.19 L393.45,326.99 L396.21,327.77 L398.96,328.53 L401.72,329.29 L404.48,330.03 L407.23,330.76 L409.99,331.47 L412.74,332.17 L415.50,332.87 L418.26,333.55 L421.01,334.22 L423.77,334.87 L426.52,335.52 L429.28,336.16 L432.04,336.79 L434.79,337.40 L437.55,338.01 L440.31,338.61 L443.06,339.20 L445.82,339.78 L448.57,340.35 L451.33,340.91 L454.09,341.47 L456.84,342.01 L459.60,342.55 L462.36,343.08 L465.11,343.61 L467.87,344.12 L470.62,344.63 L473.38,345.13 L476.14,345.62 L478.89,346.11 L481.65,346.59 L484.41,347.06 L487.16,347.53 L489.92,347.99 L492.68,348.44 L495.43,348.89 L498.19,349.33 L500.94,349.77 L503.70,350.20 L506.46,350.62 L509.21,351.04 L511.97,351.46 L514.73,351.87 L517.48,352.27 L520.24,352.67 L522.99,353.06 L525.75,353.45 L528.51,353.83 L531.26,354.21 L534.02,354.59 L536.78,354.96 L539.53,355.32 L542.29,355.68 L545.04,356.04 L547.80,356.39 L550.56,356.74 L553.31,357.08 L556.07,357.42 L558.83,357.76 L561.58,358.09 L564.34,358.42 L567.09,358.74 L569.85,359.06 L572.61,359.38 L575.36,359.69 L578.12,360.00 L580.88,360.31 L583.63,360.61 L586.39,360.91 L589.14,361.21 L591.90,361.50 L594.66,361.79 L597.41,362.08 L600.17,362.37 L602.92,362.65 L605.68,362.92 L608.44,363.20 L611.19,363.47 L613.95,363.74 L616.71,364.01 L619.46,364.27 L622.22,364.53 L624.98,364.79 L627.73,365.05 L630.49,365.30 L633.24,365.55 L636.00,365.80" stroke="#000" stroke-opacity="0.8" stroke-width="1" stroke-dasharray="2,3.4"/>
<path d="M87.51,23.95 L360.38,415.20" stroke="#000" stroke-width="2.25"/>
</g>
<g stroke="#000" fill="none">
<path d="M84.75,20.00 V415.20 H636.00 V20.00" stroke-width="1.5" stroke-linecap="square"/>
<path d="M84.75,20.00 H636.00" stroke-width="1.15"/>
<path d="M222.56,415.20 v-6.0 M222.56,20.00 v6.0" stroke-width="1"/>
<path d="M360.38,415.20 v-6.0 M360.38,20.00 v6.0" stroke-width="1"/>
<path d="M498.19,415.20 v-6.0 M498.19,20.00 v6.0" stroke-width="1"/>
<path d="M84.75,336.16 h6.0 M636.00,336.16 h-6.0" stroke-width="1"/>
<path d="M84.75,257.12 h6.0 M636.00,257.12 h-6.0" stroke-width="1"/>
<path d="M84.75,178.08 h6.0 M636.00,178.08 h-6.0" stroke-width="1"/>
<path d="M84.75,99.04 h6.0 M636.00,99.04 h-6.0" stroke-width="1"/>
</g>
<g class="t" font-size="16.8">
<text x="75.1" y="421.00" text-anchor="end">0.00</text>
<text x="75.1" y="342.00" text-anchor="end">0.20</text>
<text x="75.1" y="263.00" text-anchor="end">0.40</text>
<text x="75.1" y="184.00" text-anchor="end">0.60</text>
<text x="75.1" y="105.00" text-anchor="end">0.80</text>
<text x="75.1" y="26.00" text-anchor="end">1.00</text>
<text x="84.75" y="438" text-anchor="middle">0.0</text>
<text x="222.56" y="438" text-anchor="middle">0.5</text>
<text x="360.38" y="438" text-anchor="middle">1.0</text>
<text x="498.19" y="438" text-anchor="middle">1.5</text>
<text x="636.00" y="438" text-anchor="middle">2.0</text>
<text x="360.38" y="462" text-anchor="middle">S/K</text>
<text transform="translate(22,219.00) rotate(-90)" text-anchor="middle" font-size="16.6">Option price (in K units)</text>
</g>
<g class="t" font-size="16.5">
<path d="M105.2,301.45 H149.4" stroke="#ff0000" stroke-width="1.9" stroke-linecap="round" fill="none"/>
<g transform="translate(0,301.45)" fill="none" stroke="#000" stroke-linecap="round" stroke-linejoin="round"><path d="M161.3,-5.0 Q161.7,-6.2 162.6,-6.05 Q163.4,-5.9 163.9,-4.4 L166.6,3.7 Q167.0,4.9 167.8,4.9 Q168.4,4.9 168.6,4.3" stroke-width="1.35"/><path d="M164.75,-1.7 L161.1,5.2" stroke-width="1.35"/><path d="M170.3,0.25 H178.1 M170.3,3.2 H178.1" stroke-width="1.15" stroke-linecap="butt"/></g>
<text x="179.15" y="307.30" font-size="16">0</text>
<path d="M105.2,318.07 H149.4" stroke="#00ff00" stroke-width="1.9" stroke-linecap="round" fill="none"/>
<g transform="translate(0,318.07)" fill="none" stroke="#000" stroke-linecap="round" stroke-linejoin="round"><path d="M161.3,-5.0 Q161.7,-6.2 162.6,-6.05 Q163.4,-5.9 163.9,-4.4 L166.6,3.7 Q167.0,4.9 167.8,4.9 Q168.4,4.9 168.6,4.3" stroke-width="1.35"/><path d="M164.75,-1.7 L161.1,5.2" stroke-width="1.35"/><path d="M170.3,0.25 H178.1 M170.3,3.2 H178.1" stroke-width="1.15" stroke-linecap="butt"/></g>
<text x="179.15" y="323.92" font-size="16">0.01</text>
<path d="M105.2,334.69 H149.4" stroke="#0000ff" stroke-width="1.9" stroke-linecap="round" fill="none"/>
<g transform="translate(0,334.69)" fill="none" stroke="#000" stroke-linecap="round" stroke-linejoin="round"><path d="M161.3,-5.0 Q161.7,-6.2 162.6,-6.05 Q163.4,-5.9 163.9,-4.4 L166.6,3.7 Q167.0,4.9 167.8,4.9 Q168.4,4.9 168.6,4.3" stroke-width="1.35"/><path d="M164.75,-1.7 L161.1,5.2" stroke-width="1.35"/><path d="M170.3,0.25 H178.1 M170.3,3.2 H178.1" stroke-width="1.15" stroke-linecap="butt"/></g>
<text x="179.15" y="340.54" font-size="16">0.1</text>
<path d="M105.2,351.31 H149.4" stroke="#ff00ff" stroke-width="1.9" stroke-linecap="round" fill="none"/>
<g transform="translate(0,351.31)" fill="none" stroke="#000" stroke-linecap="round" stroke-linejoin="round"><path d="M161.3,-5.0 Q161.7,-6.2 162.6,-6.05 Q163.4,-5.9 163.9,-4.4 L166.6,3.7 Q167.0,4.9 167.8,4.9 Q168.4,4.9 168.6,4.3" stroke-width="1.35"/><path d="M164.75,-1.7 L161.1,5.2" stroke-width="1.35"/><path d="M170.3,0.25 H178.1 M170.3,3.2 H178.1" stroke-width="1.15" stroke-linecap="butt"/></g>
<text x="179.15" y="357.16" font-size="16">0.5094</text>
<path d="M105.2,367.93 H149.4" stroke="#00ffff" stroke-width="1.9" stroke-linecap="round" fill="none"/>
<g transform="translate(0,367.93)" fill="none" stroke="#000" stroke-linecap="round" stroke-linejoin="round"><path d="M161.3,-5.0 Q161.7,-6.2 162.6,-6.05 Q163.4,-5.9 163.9,-4.4 L166.6,3.7 Q167.0,4.9 167.8,4.9 Q168.4,4.9 168.6,4.3" stroke-width="1.35"/><path d="M164.75,-1.7 L161.1,5.2" stroke-width="1.35"/><path d="M170.3,0.25 H178.1 M170.3,3.2 H178.1" stroke-width="1.15" stroke-linecap="butt"/></g>
<text x="179.15" y="373.78" font-size="16">1.0</text>
<path d="M105.2,384.55 H149.4" stroke="#ffff00" stroke-width="1.9" stroke-linecap="round" fill="none"/>
<g transform="translate(0,384.55)" fill="none" stroke="#000" stroke-linecap="round" stroke-linejoin="round"><path d="M161.3,-5.0 Q161.7,-6.2 162.6,-6.05 Q163.4,-5.9 163.9,-4.4 L166.6,3.7 Q167.0,4.9 167.8,4.9 Q168.4,4.9 168.6,4.3" stroke-width="1.35"/><path d="M164.75,-1.7 L161.1,5.2" stroke-width="1.35"/><path d="M170.3,0.25 H178.1 M170.3,3.2 H178.1" stroke-width="1.15" stroke-linecap="butt"/></g>
<text x="179.15" y="390.40" font-size="16">10.0</text>
<path d="M104.5,401.17 H150.4" stroke="#000" stroke-opacity="0.55" stroke-width="1.1" stroke-dasharray="1.7,3.8" fill="none"/>
<g transform="translate(0,401.17)" fill="none" stroke="#000" stroke-linecap="round" stroke-linejoin="round"><path d="M161.3,-5.0 Q161.7,-6.2 162.6,-6.05 Q163.4,-5.9 163.9,-4.4 L166.6,3.7 Q167.0,4.9 167.8,4.9 Q168.4,4.9 168.6,4.3" stroke-width="1.35"/><path d="M164.75,-1.7 L161.1,5.2" stroke-width="1.35"/><path d="M170.3,0.25 H178.1 M170.3,3.2 H178.1" stroke-width="1.15" stroke-linecap="butt"/></g>
<text transform="translate(179.0,406.27) scale(1.17,1)" font-size="14.2">∞</text>
</g>
<rect x="357.00" y="66.50" width="212.50" height="155.90" fill="#fff"/>
<clipPath id="ic"><rect x="357.00" y="66.50" width="213.50" height="155.90"/></clipPath>
<g fill="none" stroke-linejoin="round" clip-path="url(#ic)">
<path d="M390.29,74.39 L391.00,74.61 L391.71,74.84 L392.42,75.07 L393.12,75.29 L393.83,75.52 L394.54,75.74 L395.25,75.97 L395.96,76.19 L396.67,76.42 L397.38,76.64 L398.08,76.87 L398.79,77.10 L399.50,77.32 L400.21,77.55 L400.92,77.77 L401.62,78.00 L402.33,78.22 L403.04,78.45 L403.75,78.67 L404.46,78.90 L405.17,79.12 L405.88,79.35 L406.58,79.58 L407.29,79.80 L408.00,80.03 L408.71,80.25 L409.42,80.48 L410.12,80.70 L410.83,80.93 L411.54,81.15 L412.25,81.38 L412.96,81.61 L413.67,81.83 L414.38,82.06 L415.08,82.28 L415.79,82.51 L416.50,82.73 L417.21,82.96 L417.92,83.18 L418.62,83.41 L419.33,83.64 L420.04,83.86 L420.75,84.09 L421.46,84.31 L422.17,84.54 L422.88,84.76 L423.58,84.99 L424.29,85.21 L425.00,85.44 L425.71,85.67 L426.42,85.89 L427.12,86.12 L427.83,86.34 L428.54,86.57 L429.25,86.79 L429.96,87.02 L430.67,87.24 L431.38,87.47 L432.08,87.70 L432.79,87.92 L433.50,88.15 L434.21,88.37 L434.92,88.60 L435.62,88.82 L436.33,89.05 L437.04,89.27 L437.75,89.50 L438.46,89.72 L439.17,89.95 L439.88,90.18 L440.58,90.40 L441.29,90.63 L442.00,90.85 L442.71,91.08 L443.42,91.30 L444.12,91.53 L444.83,91.75 L445.54,91.98 L446.25,92.21 L446.96,92.43 L447.67,92.66 L448.38,92.88 L449.08,93.11 L449.79,93.33 L450.50,93.56 L451.21,93.78 L451.92,94.01 L452.62,94.24 L453.33,94.46 L454.04,94.69 L454.75,94.91 L455.46,95.14 L456.17,95.36 L456.88,95.59 L457.58,95.81 L458.29,96.04 L459.00,96.27 L459.71,96.49 L460.42,96.72 L461.12,96.94 L461.83,97.17 L462.54,97.39 L463.25,97.62 L463.96,97.84 L464.67,98.07 L465.38,98.30 L466.08,98.52 L466.79,98.75 L467.50,98.97 L468.21,99.20 L468.92,99.42 L469.62,99.65 L470.33,99.87 L471.04,100.10 L471.75,100.33 L472.46,100.55 L473.17,100.78 L473.88,101.00 L474.58,101.23 L475.29,101.45 L476.00,101.68 L476.71,101.90 L477.42,102.13 L478.12,102.35 L478.83,102.58 L479.54,102.81 L480.25,103.03 L480.96,103.26 L481.67,103.48 L482.38,103.71 L483.08,103.93 L483.79,104.16 L484.50,104.38 L485.21,104.61 L485.92,104.84 L486.62,105.06 L487.33,105.29 L488.04,105.51 L488.75,105.74 L489.46,105.96 L490.17,106.19 L490.88,106.41 L491.58,106.64 L492.29,106.87 L493.00,107.09 L493.71,107.32 L494.42,107.54 L495.12,107.77 L495.83,107.99 L496.54,108.22 L497.25,108.44 L497.96,108.67 L498.67,108.90 L499.38,109.12 L500.08,109.35 L500.79,109.57 L501.50,109.80 L502.21,110.02 L502.92,110.25 L503.62,110.47 L504.33,110.70 L505.04,110.93 L505.75,111.15 L506.46,111.38 L507.17,111.60 L507.88,111.83 L508.58,112.05 L509.29,112.28 L510.00,112.50 L510.71,112.73 L511.42,112.96 L512.12,113.18 L512.83,113.41 L513.54,113.63 L514.25,113.86 L514.96,114.08 L515.67,114.31 L516.38,114.53 L517.08,114.76 L517.79,114.98 L518.50,115.21 L519.21,115.44 L519.92,115.66 L520.62,115.89 L521.33,116.11 L522.04,116.34 L522.75,116.56 L523.46,116.79 L524.17,117.01 L524.88,117.24 L525.58,117.47 L526.29,117.69 L527.00,117.92 L527.71,118.14 L528.42,118.37 L529.12,118.59 L529.83,118.82 L530.54,119.04 L531.25,119.27 L531.96,119.50 L532.67,119.72 L533.38,119.95 L534.08,120.17 L534.79,120.40 L535.50,120.62 L536.21,120.85 L536.92,121.07 L537.62,121.30 L538.33,121.53 L539.04,121.75 L539.75,121.98 L540.46,122.20 L541.17,122.43 L541.88,122.65 L542.58,122.88 L543.29,123.10 L544.00,123.33 L544.71,123.56 L545.42,123.78 L546.12,124.01 L546.83,124.23 L547.54,124.46 L548.25,124.68 L548.96,124.91 L549.67,125.13 L550.38,125.36 L551.08,125.59 L551.79,125.81 L552.50,126.04 L553.21,126.26 L553.92,126.49 L554.62,126.71 L555.33,126.94 L556.04,127.16 L556.75,127.39 L557.46,127.61 L558.17,127.84 L558.88,128.07 L559.58,128.29 L560.29,128.52 L561.00,128.74 L561.71,128.97 L562.42,129.19 L563.12,129.42 L563.83,129.64 L564.54,129.87 L565.25,130.10 L565.96,130.32 L566.67,130.55 L567.38,130.77 L568.08,131.00 L568.79,131.22 L569.50,131.45" stroke="#ff0000" stroke-width="2.7" stroke-linecap="round"/>
<path d="M390.29,74.39 L391.00,74.61 L391.71,74.84 L392.42,75.08 L393.12,75.31 L393.83,75.54 L394.54,75.78 L395.25,76.01 L395.96,76.24 L396.67,76.48 L397.38,76.71 L398.08,76.95 L398.79,77.18 L399.50,77.42 L400.21,77.66 L400.92,77.89 L401.62,78.13 L402.33,78.37 L403.04,78.60 L403.75,78.84 L404.46,79.08 L405.17,79.32 L405.88,79.56 L406.58,79.79 L407.29,80.03 L408.00,80.27 L408.71,80.51 L409.42,80.75 L410.12,80.99 L410.83,81.24 L411.54,81.48 L412.25,81.72 L412.96,81.96 L413.67,82.20 L414.38,82.44 L415.08,82.69 L415.79,82.93 L416.50,83.17 L417.21,83.42 L417.92,83.66 L418.62,83.90 L419.33,84.15 L420.04,84.39 L420.75,84.64 L421.46,84.88 L422.17,85.13 L422.88,85.37 L423.58,85.62 L424.29,85.86 L425.00,86.11 L425.71,86.36 L426.42,86.60 L427.12,86.85 L427.83,87.10 L428.54,87.34 L429.25,87.59 L429.96,87.84 L430.67,88.09 L431.38,88.33 L432.08,88.58 L432.79,88.83 L433.50,89.08 L434.21,89.33 L434.92,89.58 L435.62,89.83 L436.33,90.07 L437.04,90.32 L437.75,90.57 L438.46,90.82 L439.17,91.07 L439.88,91.32 L440.58,91.57 L441.29,91.83 L442.00,92.08 L442.71,92.33 L443.42,92.58 L444.12,92.83 L444.83,93.08 L445.54,93.33 L446.25,93.58 L446.96,93.84 L447.67,94.09 L448.38,94.34 L449.08,94.59 L449.79,94.84 L450.50,95.10 L451.21,95.35 L451.92,95.60 L452.62,95.86 L453.33,96.11 L454.04,96.36 L454.75,96.62 L455.46,96.87 L456.17,97.12 L456.88,97.38 L457.58,97.63 L458.29,97.89 L459.00,98.14 L459.71,98.39 L460.42,98.65 L461.12,98.90 L461.83,99.16 L462.54,99.41 L463.25,99.67 L463.96,99.92 L464.67,100.18 L465.38,100.43 L466.08,100.69 L466.79,100.94 L467.50,101.20 L468.21,101.46 L468.92,101.71 L469.62,101.97 L470.33,102.22 L471.04,102.48 L471.75,102.74 L472.46,102.99 L473.17,103.25 L473.88,103.51 L474.58,103.76 L475.29,104.02 L476.00,104.28 L476.71,104.53 L477.42,104.79 L478.12,105.05 L478.83,105.30 L479.54,105.56 L480.25,105.82 L480.96,106.08 L481.67,106.33 L482.38,106.59 L483.08,106.85 L483.79,107.11 L484.50,107.36 L485.21,107.62 L485.92,107.88 L486.62,108.14 L487.33,108.40 L488.04,108.66 L488.75,108.91 L489.46,109.17 L490.17,109.43 L490.88,109.69 L491.58,109.95 L492.29,110.21 L493.00,110.47 L493.71,110.72 L494.42,110.98 L495.12,111.24 L495.83,111.50 L496.54,111.76 L497.25,112.02 L497.96,112.28 L498.67,112.54 L499.38,112.80 L500.08,113.06 L500.79,113.32 L501.50,113.58 L502.21,113.84 L502.92,114.10 L503.62,114.35 L504.33,114.61 L505.04,114.87 L505.75,115.13 L506.46,115.39 L507.17,115.65 L507.88,115.91 L508.58,116.17 L509.29,116.44 L510.00,116.70 L510.71,116.96 L511.42,117.22 L512.12,117.48 L512.83,117.74 L513.54,118.00 L514.25,118.26 L514.96,118.52 L515.67,118.78 L516.38,119.04 L517.08,119.30 L517.79,119.56 L518.50,119.82 L519.21,120.08 L519.92,120.34 L520.62,120.61 L521.33,120.87 L522.04,121.13 L522.75,121.39 L523.46,121.65 L524.17,121.91 L524.88,122.17 L525.58,122.43 L526.29,122.69 L527.00,122.96 L527.71,123.22 L528.42,123.48 L529.12,123.74 L529.83,124.00 L530.54,124.26 L531.25,124.52 L531.96,124.79 L532.67,125.05 L533.38,125.31 L534.08,125.57 L534.79,125.83 L535.50,126.10 L536.21,126.36 L536.92,126.62 L537.62,126.88 L538.33,127.14 L539.04,127.40 L539.75,127.67 L540.46,127.93 L541.17,128.19 L541.88,128.45 L542.58,128.71 L543.29,128.98 L544.00,129.24 L544.71,129.50 L545.42,129.76 L546.12,130.03 L546.83,130.29 L547.54,130.55 L548.25,130.81 L548.96,131.08 L549.67,131.34 L550.38,131.60 L551.08,131.86 L551.79,132.13 L552.50,132.39 L553.21,132.65 L553.92,132.91 L554.62,133.18 L555.33,133.44 L556.04,133.70 L556.75,133.96 L557.46,134.23 L558.17,134.49 L558.88,134.75 L559.58,135.01 L560.29,135.28 L561.00,135.54 L561.71,135.80 L562.42,136.07 L563.12,136.33 L563.83,136.59 L564.54,136.85 L565.25,137.12 L565.96,137.38 L566.67,137.64 L567.38,137.91 L568.08,138.17 L568.79,138.43 L569.50,138.70" stroke="#00ff00" stroke-width="2.7" stroke-linecap="round"/>
<path d="M390.29,74.39 L391.00,74.61 L391.71,74.84 L392.42,75.08 L393.12,75.32 L393.83,75.58 L394.54,75.84 L395.25,76.11 L395.96,76.38 L396.67,76.66 L397.38,76.94 L398.08,77.22 L398.79,77.50 L399.50,77.79 L400.21,78.07 L400.92,78.36 L401.62,78.65 L402.33,78.94 L403.04,79.24 L403.75,79.54 L404.46,79.83 L405.17,80.14 L405.88,80.44 L406.58,80.74 L407.29,81.05 L408.00,81.36 L408.71,81.67 L409.42,81.99 L410.12,82.30 L410.83,82.62 L411.54,82.94 L412.25,83.26 L412.96,83.58 L413.67,83.91 L414.38,84.23 L415.08,84.56 L415.79,84.89 L416.50,85.22 L417.21,85.56 L417.92,85.89 L418.62,86.23 L419.33,86.57 L420.04,86.91 L420.75,87.25 L421.46,87.59 L422.17,87.93 L422.88,88.28 L423.58,88.62 L424.29,88.97 L425.00,89.32 L425.71,89.67 L426.42,90.02 L427.12,90.38 L427.83,90.73 L428.54,91.09 L429.25,91.45 L429.96,91.80 L430.67,92.16 L431.38,92.52 L432.08,92.89 L432.79,93.25 L433.50,93.61 L434.21,93.98 L434.92,94.34 L435.62,94.71 L436.33,95.08 L437.04,95.45 L437.75,95.82 L438.46,96.19 L439.17,96.56 L439.88,96.94 L440.58,97.31 L441.29,97.69 L442.00,98.07 L442.71,98.44 L443.42,98.82 L444.12,99.20 L444.83,99.58 L445.54,99.96 L446.25,100.34 L446.96,100.73 L447.67,101.11 L448.38,101.50 L449.08,101.88 L449.79,102.27 L450.50,102.66 L451.21,103.04 L451.92,103.43 L452.62,103.82 L453.33,104.21 L454.04,104.60 L454.75,105.00 L455.46,105.39 L456.17,105.78 L456.88,106.18 L457.58,106.57 L458.29,106.97 L459.00,107.36 L459.71,107.76 L460.42,108.16 L461.12,108.56 L461.83,108.96 L462.54,109.36 L463.25,109.76 L463.96,110.16 L464.67,110.56 L465.38,110.96 L466.08,111.37 L466.79,111.77 L467.50,112.18 L468.21,112.58 L468.92,112.99 L469.62,113.39 L470.33,113.80 L471.04,114.21 L471.75,114.62 L472.46,115.03 L473.17,115.43 L473.88,115.84 L474.58,116.26 L475.29,116.67 L476.00,117.08 L476.71,117.49 L477.42,117.90 L478.12,118.32 L478.83,118.73 L479.54,119.14 L480.25,119.56 L480.96,119.98 L481.67,120.39 L482.38,120.81 L483.08,121.22 L483.79,121.64 L484.50,122.06 L485.21,122.48 L485.92,122.90 L486.62,123.32 L487.33,123.74 L488.04,124.16 L488.75,124.58 L489.46,125.00 L490.17,125.42 L490.88,125.84 L491.58,126.27 L492.29,126.69 L493.00,127.11 L493.71,127.54 L494.42,127.96 L495.12,128.39 L495.83,128.81 L496.54,129.24 L497.25,129.66 L497.96,130.09 L498.67,130.52 L499.38,130.94 L500.08,131.37 L500.79,131.80 L501.50,132.23 L502.21,132.66 L502.92,133.09 L503.62,133.52 L504.33,133.95 L505.04,134.38 L505.75,134.81 L506.46,135.24 L507.17,135.67 L507.88,136.11 L508.58,136.54 L509.29,136.97 L510.00,137.40 L510.71,137.84 L511.42,138.27 L512.12,138.71 L512.83,139.14 L513.54,139.58 L514.25,140.01 L514.96,140.45 L515.67,140.88 L516.38,141.32 L517.08,141.76 L517.79,142.19 L518.50,142.63 L519.21,143.07 L519.92,143.51 L520.62,143.94 L521.33,144.38 L522.04,144.82 L522.75,145.26 L523.46,145.70 L524.17,146.14 L524.88,146.58 L525.58,147.02 L526.29,147.46 L527.00,147.90 L527.71,148.34 L528.42,148.79 L529.12,149.23 L529.83,149.67 L530.54,150.11 L531.25,150.56 L531.96,151.00 L532.67,151.44 L533.38,151.89 L534.08,152.33 L534.79,152.78 L535.50,153.22 L536.21,153.67 L536.92,154.11 L537.62,154.56 L538.33,155.00 L539.04,155.45 L539.75,155.89 L540.46,156.34 L541.17,156.79 L541.88,157.23 L542.58,157.68 L543.29,158.13 L544.00,158.58 L544.71,159.03 L545.42,159.47 L546.12,159.92 L546.83,160.37 L547.54,160.82 L548.25,161.27 L548.96,161.72 L549.67,162.17 L550.38,162.62 L551.08,163.07 L551.79,163.52 L552.50,163.97 L553.21,164.42 L553.92,164.87 L554.62,165.32 L555.33,165.78 L556.04,166.23 L556.75,166.68 L557.46,167.13 L558.17,167.58 L558.88,168.04 L559.58,168.49 L560.29,168.94 L561.00,169.40 L561.71,169.85 L562.42,170.31 L563.12,170.76 L563.83,171.21 L564.54,171.67 L565.25,172.12 L565.96,172.58 L566.67,173.03 L567.38,173.49 L568.08,173.94 L568.79,174.40 L569.50,174.86" stroke="#0000ff" stroke-width="2.7" stroke-linecap="round"/>
<path d="M390.29,74.39 L391.00,74.61 L391.71,74.84 L392.42,75.08 L393.12,75.32 L393.83,75.58 L394.54,75.84 L395.25,76.11 L395.96,76.39 L396.67,76.68 L397.38,76.98 L398.08,77.30 L398.79,77.62 L399.50,77.96 L400.21,78.30 L400.92,78.64 L401.62,78.99 L402.33,79.34 L403.04,79.70 L403.75,80.07 L404.46,80.43 L405.17,80.81 L405.88,81.19 L406.58,81.57 L407.29,81.96 L408.00,82.35 L408.71,82.74 L409.42,83.14 L410.12,83.55 L410.83,83.95 L411.54,84.37 L412.25,84.78 L412.96,85.20 L413.67,85.62 L414.38,86.04 L415.08,86.47 L415.79,86.90 L416.50,87.33 L417.21,87.77 L417.92,88.21 L418.62,88.65 L419.33,89.09 L420.04,89.54 L420.75,89.98 L421.46,90.43 L422.17,90.89 L422.88,91.34 L423.58,91.80 L424.29,92.25 L425.00,92.71 L425.71,93.18 L426.42,93.64 L427.12,94.10 L427.83,94.57 L428.54,95.04 L429.25,95.51 L429.96,95.98 L430.67,96.45 L431.38,96.93 L432.08,97.40 L432.79,97.88 L433.50,98.36 L434.21,98.84 L434.92,99.32 L435.62,99.80 L436.33,100.28 L437.04,100.76 L437.75,101.25 L438.46,101.73 L439.17,102.22 L439.88,102.71 L440.58,103.20 L441.29,103.69 L442.00,104.18 L442.71,104.67 L443.42,105.16 L444.12,105.65 L444.83,106.14 L445.54,106.64 L446.25,107.13 L446.96,107.63 L447.67,108.13 L448.38,108.62 L449.08,109.12 L449.79,109.62 L450.50,110.12 L451.21,110.62 L451.92,111.12 L452.62,111.62 L453.33,112.12 L454.04,112.62 L454.75,113.12 L455.46,113.63 L456.17,114.13 L456.88,114.63 L457.58,115.14 L458.29,115.64 L459.00,116.15 L459.71,116.65 L460.42,117.16 L461.12,117.66 L461.83,118.17 L462.54,118.68 L463.25,119.18 L463.96,119.69 L464.67,120.20 L465.38,120.71 L466.08,121.21 L466.79,121.72 L467.50,122.23 L468.21,122.74 L468.92,123.25 L469.62,123.76 L470.33,124.27 L471.04,124.78 L471.75,125.29 L472.46,125.80 L473.17,126.32 L473.88,126.83 L474.58,127.34 L475.29,127.85 L476.00,128.36 L476.71,128.88 L477.42,129.39 L478.12,129.90 L478.83,130.41 L479.54,130.93 L480.25,131.44 L480.96,131.95 L481.67,132.47 L482.38,132.98 L483.08,133.49 L483.79,134.01 L484.50,134.52 L485.21,135.04 L485.92,135.55 L486.62,136.07 L487.33,136.58 L488.04,137.10 L488.75,137.61 L489.46,138.13 L490.17,138.64 L490.88,139.16 L491.58,139.67 L492.29,140.19 L493.00,140.71 L493.71,141.22 L494.42,141.74 L495.12,142.25 L495.83,142.77 L496.54,143.29 L497.25,143.80 L497.96,144.32 L498.67,144.84 L499.38,145.35 L500.08,145.87 L500.79,146.39 L501.50,146.90 L502.21,147.42 L502.92,147.94 L503.62,148.45 L504.33,148.97 L505.04,149.49 L505.75,150.01 L506.46,150.52 L507.17,151.04 L507.88,151.56 L508.58,152.08 L509.29,152.59 L510.00,153.11 L510.71,153.63 L511.42,154.15 L512.12,154.66 L512.83,155.18 L513.54,155.70 L514.25,156.22 L514.96,156.74 L515.67,157.25 L516.38,157.77 L517.08,158.29 L517.79,158.81 L518.50,159.33 L519.21,159.85 L519.92,160.36 L520.62,160.88 L521.33,161.40 L522.04,161.92 L522.75,162.44 L523.46,162.96 L524.17,163.47 L524.88,163.99 L525.58,164.51 L526.29,165.03 L527.00,165.55 L527.71,166.07 L528.42,166.59 L529.12,167.11 L529.83,167.62 L530.54,168.14 L531.25,168.66 L531.96,169.18 L532.67,169.70 L533.38,170.22 L534.08,170.74 L534.79,171.26 L535.50,171.77 L536.21,172.29 L536.92,172.81 L537.62,173.33 L538.33,173.85 L539.04,174.37 L539.75,174.89 L540.46,175.41 L541.17,175.93 L541.88,176.45 L542.58,176.97 L543.29,177.48 L544.00,178.00 L544.71,178.52 L545.42,179.04 L546.12,179.56 L546.83,180.08 L547.54,180.60 L548.25,181.12 L548.96,181.64 L549.67,182.16 L550.38,182.68 L551.08,183.20 L551.79,183.71 L552.50,184.23 L553.21,184.75 L553.92,185.27 L554.62,185.79 L555.33,186.31 L556.04,186.83 L556.75,187.35 L557.46,187.87 L558.17,188.39 L558.88,188.91 L559.58,189.43 L560.29,189.95 L561.00,190.47 L561.71,190.99 L562.42,191.51 L563.12,192.02 L563.83,192.54 L564.54,193.06 L565.25,193.58 L565.96,194.10 L566.67,194.62 L567.38,195.14 L568.08,195.66 L568.79,196.18 L569.50,196.70" stroke="#ff00ff" stroke-width="2.7" stroke-linecap="round"/>
<path d="M390.29,74.39 L391.00,74.61 L391.71,74.84 L392.42,75.08 L393.12,75.32 L393.83,75.58 L394.54,75.84 L395.25,76.11 L395.96,76.39 L396.67,76.68 L397.38,76.98 L398.08,77.30 L398.79,77.62 L399.50,77.96 L400.21,78.31 L400.92,78.67 L401.62,79.04 L402.33,79.42 L403.04,79.80 L403.75,80.19 L404.46,80.58 L405.17,80.99 L405.88,81.39 L406.58,81.81 L407.29,82.22 L408.00,82.65 L408.71,83.08 L409.42,83.51 L410.12,83.95 L410.83,84.39 L411.54,84.83 L412.25,85.28 L412.96,85.74 L413.67,86.19 L414.38,86.65 L415.08,87.12 L415.79,87.58 L416.50,88.05 L417.21,88.52 L417.92,88.99 L418.62,89.47 L419.33,89.95 L420.04,90.43 L420.75,90.91 L421.46,91.39 L422.17,91.88 L422.88,92.37 L423.58,92.85 L424.29,93.34 L425.00,93.84 L425.71,94.33 L426.42,94.82 L427.12,95.32 L427.83,95.82 L428.54,96.31 L429.25,96.81 L429.96,97.31 L430.67,97.81 L431.38,98.32 L432.08,98.82 L432.79,99.32 L433.50,99.83 L434.21,100.33 L434.92,100.84 L435.62,101.34 L436.33,101.85 L437.04,102.36 L437.75,102.87 L438.46,103.38 L439.17,103.89 L439.88,104.39 L440.58,104.91 L441.29,105.42 L442.00,105.93 L442.71,106.44 L443.42,106.95 L444.12,107.46 L444.83,107.98 L445.54,108.49 L446.25,109.00 L446.96,109.52 L447.67,110.03 L448.38,110.54 L449.08,111.06 L449.79,111.57 L450.50,112.09 L451.21,112.60 L451.92,113.12 L452.62,113.63 L453.33,114.15 L454.04,114.67 L454.75,115.18 L455.46,115.70 L456.17,116.22 L456.88,116.73 L457.58,117.25 L458.29,117.77 L459.00,118.28 L459.71,118.80 L460.42,119.32 L461.12,119.83 L461.83,120.35 L462.54,120.87 L463.25,121.39 L463.96,121.91 L464.67,122.42 L465.38,122.94 L466.08,123.46 L466.79,123.98 L467.50,124.50 L468.21,125.01 L468.92,125.53 L469.62,126.05 L470.33,126.57 L471.04,127.09 L471.75,127.61 L472.46,128.13 L473.17,128.64 L473.88,129.16 L474.58,129.68 L475.29,130.20 L476.00,130.72 L476.71,131.24 L477.42,131.76 L478.12,132.28 L478.83,132.79 L479.54,133.31 L480.25,133.83 L480.96,134.35 L481.67,134.87 L482.38,135.39 L483.08,135.91 L483.79,136.43 L484.50,136.95 L485.21,137.47 L485.92,137.99 L486.62,138.51 L487.33,139.03 L488.04,139.54 L488.75,140.06 L489.46,140.58 L490.17,141.10 L490.88,141.62 L491.58,142.14 L492.29,142.66 L493.00,143.18 L493.71,143.70 L494.42,144.22 L495.12,144.74 L495.83,145.26 L496.54,145.78 L497.25,146.30 L497.96,146.82 L498.67,147.34 L499.38,147.86 L500.08,148.37 L500.79,148.89 L501.50,149.41 L502.21,149.93 L502.92,150.45 L503.62,150.97 L504.33,151.49 L505.04,152.01 L505.75,152.53 L506.46,153.05 L507.17,153.57 L507.88,154.09 L508.58,154.61 L509.29,155.13 L510.00,155.65 L510.71,156.17 L511.42,156.69 L512.12,157.21 L512.83,157.73 L513.54,158.25 L514.25,158.77 L514.96,159.29 L515.67,159.81 L516.38,160.33 L517.08,160.84 L517.79,161.36 L518.50,161.88 L519.21,162.40 L519.92,162.92 L520.62,163.44 L521.33,163.96 L522.04,164.48 L522.75,165.00 L523.46,165.52 L524.17,166.04 L524.88,166.56 L525.58,167.08 L526.29,167.60 L527.00,168.12 L527.71,168.64 L528.42,169.16 L529.12,169.68 L529.83,170.20 L530.54,170.72 L531.25,171.24 L531.96,171.76 L532.67,172.28 L533.38,172.80 L534.08,173.32 L534.79,173.84 L535.50,174.36 L536.21,174.88 L536.92,175.39 L537.62,175.91 L538.33,176.43 L539.04,176.95 L539.75,177.47 L540.46,177.99 L541.17,178.51 L541.88,179.03 L542.58,179.55 L543.29,180.07 L544.00,180.59 L544.71,181.11 L545.42,181.63 L546.12,182.15 L546.83,182.67 L547.54,183.19 L548.25,183.71 L548.96,184.23 L549.67,184.75 L550.38,185.27 L551.08,185.79 L551.79,186.31 L552.50,186.83 L553.21,187.35 L553.92,187.87 L554.62,188.39 L555.33,188.91 L556.04,189.43 L556.75,189.95 L557.46,190.46 L558.17,190.98 L558.88,191.50 L559.58,192.02 L560.29,192.54 L561.00,193.06 L561.71,193.58 L562.42,194.10 L563.12,194.62 L563.83,195.14 L564.54,195.66 L565.25,196.18 L565.96,196.70 L566.67,197.22 L567.38,197.74 L568.08,198.26 L568.79,198.78 L569.50,199.30" stroke="#00ffff" stroke-width="2.7" stroke-linecap="round"/>
<path d="M390.29,74.39 L391.00,74.61 L391.71,74.84 L392.42,75.08 L393.12,75.32 L393.83,75.58 L394.54,75.84 L395.25,76.11 L395.96,76.39 L396.67,76.68 L397.38,76.98 L398.08,77.30 L398.79,77.62 L399.50,77.96 L400.21,78.31 L400.92,78.67 L401.62,79.05 L402.33,79.45 L403.04,79.86 L403.75,80.29 L404.46,80.73 L405.17,81.19 L405.88,81.66 L406.58,82.14 L407.29,82.63 L408.00,83.12 L408.71,83.62 L409.42,84.12 L410.12,84.62 L410.83,85.13 L411.54,85.64 L412.25,86.15 L412.96,86.67 L413.67,87.18 L414.38,87.70 L415.08,88.22 L415.79,88.73 L416.50,89.25 L417.21,89.77 L417.92,90.29 L418.62,90.81 L419.33,91.32 L420.04,91.84 L420.75,92.36 L421.46,92.88 L422.17,93.40 L422.88,93.92 L423.58,94.44 L424.29,94.96 L425.00,95.48 L425.71,96.00 L426.42,96.52 L427.12,97.04 L427.83,97.56 L428.54,98.08 L429.25,98.60 L429.96,99.12 L430.67,99.64 L431.38,100.15 L432.08,100.67 L432.79,101.19 L433.50,101.71 L434.21,102.23 L434.92,102.75 L435.62,103.27 L436.33,103.79 L437.04,104.31 L437.75,104.83 L438.46,105.35 L439.17,105.87 L439.88,106.39 L440.58,106.91 L441.29,107.43 L442.00,107.95 L442.71,108.47 L443.42,108.99 L444.12,109.51 L444.83,110.03 L445.54,110.55 L446.25,111.07 L446.96,111.59 L447.67,112.11 L448.38,112.63 L449.08,113.15 L449.79,113.67 L450.50,114.19 L451.21,114.71 L451.92,115.22 L452.62,115.74 L453.33,116.26 L454.04,116.78 L454.75,117.30 L455.46,117.82 L456.17,118.34 L456.88,118.86 L457.58,119.38 L458.29,119.90 L459.00,120.42 L459.71,120.94 L460.42,121.46 L461.12,121.98 L461.83,122.50 L462.54,123.02 L463.25,123.54 L463.96,124.06 L464.67,124.58 L465.38,125.10 L466.08,125.62 L466.79,126.14 L467.50,126.66 L468.21,127.18 L468.92,127.70 L469.62,128.22 L470.33,128.74 L471.04,129.26 L471.75,129.78 L472.46,130.30 L473.17,130.81 L473.88,131.33 L474.58,131.85 L475.29,132.37 L476.00,132.89 L476.71,133.41 L477.42,133.93 L478.12,134.45 L478.83,134.97 L479.54,135.49 L480.25,136.01 L480.96,136.53 L481.67,137.05 L482.38,137.57 L483.08,138.09 L483.79,138.61 L484.50,139.13 L485.21,139.65 L485.92,140.17 L486.62,140.69 L487.33,141.21 L488.04,141.73 L488.75,142.25 L489.46,142.77 L490.17,143.29 L490.88,143.81 L491.58,144.33 L492.29,144.85 L493.00,145.37 L493.71,145.89 L494.42,146.40 L495.12,146.92 L495.83,147.44 L496.54,147.96 L497.25,148.48 L497.96,149.00 L498.67,149.52 L499.38,150.04 L500.08,150.56 L500.79,151.08 L501.50,151.60 L502.21,152.12 L502.92,152.64 L503.62,153.16 L504.33,153.68 L505.04,154.20 L505.75,154.72 L506.46,155.24 L507.17,155.76 L507.88,156.28 L508.58,156.80 L509.29,157.32 L510.00,157.84 L510.71,158.36 L511.42,158.88 L512.12,159.40 L512.83,159.92 L513.54,160.44 L514.25,160.96 L514.96,161.48 L515.67,161.99 L516.38,162.51 L517.08,163.03 L517.79,163.55 L518.50,164.07 L519.21,164.59 L519.92,165.11 L520.62,165.63 L521.33,166.15 L522.04,166.67 L522.75,167.19 L523.46,167.71 L524.17,168.23 L524.88,168.75 L525.58,169.27 L526.29,169.79 L527.00,170.31 L527.71,170.83 L528.42,171.35 L529.12,171.87 L529.83,172.39 L530.54,172.91 L531.25,173.43 L531.96,173.95 L532.67,174.47 L533.38,174.99 L534.08,175.51 L534.79,176.03 L535.50,176.55 L536.21,177.07 L536.92,177.58 L537.62,178.10 L538.33,178.62 L539.04,179.14 L539.75,179.66 L540.46,180.18 L541.17,180.70 L541.88,181.22 L542.58,181.74 L543.29,182.26 L544.00,182.78 L544.71,183.30 L545.42,183.82 L546.12,184.34 L546.83,184.86 L547.54,185.38 L548.25,185.90 L548.96,186.42 L549.67,186.94 L550.38,187.46 L551.08,187.98 L551.79,188.50 L552.50,189.02 L553.21,189.54 L553.92,190.06 L554.62,190.58 L555.33,191.10 L556.04,191.62 L556.75,192.14 L557.46,192.66 L558.17,193.17 L558.88,193.69 L559.58,194.21 L560.29,194.73 L561.00,195.25 L561.71,195.77 L562.42,196.29 L563.12,196.81 L563.83,197.33 L564.54,197.85 L565.25,198.37 L565.96,198.89 L566.67,199.41 L567.38,199.93 L568.08,200.45 L568.79,200.97 L569.50,201.49" stroke="#ffff00" stroke-width="2.7" stroke-linecap="round"/>
<path d="M357.00,68.88 L357.71,68.94 L358.42,69.00 L359.12,69.06 L359.83,69.12 L360.54,69.19 L361.25,69.25 L361.96,69.32 L362.67,69.39 L363.38,69.46 L364.08,69.54 L364.79,69.61 L365.50,69.69 L366.21,69.77 L366.92,69.85 L367.62,69.94 L368.33,70.02 L369.04,70.11 L369.75,70.20 L370.46,70.30 L371.17,70.39 L371.88,70.49 L372.58,70.60 L373.29,70.70 L374.00,70.81 L374.71,70.92 L375.42,71.03 L376.12,71.15 L376.83,71.27 L377.54,71.40 L378.25,71.52 L378.96,71.65 L379.67,71.79 L380.38,71.93 L381.08,72.07 L381.79,72.22 L382.50,72.37 L383.21,72.53 L383.92,72.69 L384.62,72.86 L385.33,73.03 L386.04,73.21 L386.75,73.39 L387.46,73.58 L388.17,73.77 L388.88,73.97 L389.58,74.18 L390.29,74.39 L391.00,74.61 L391.71,74.84 L392.42,75.08 L393.12,75.32 L393.83,75.58 L394.54,75.84 L395.25,76.11 L395.96,76.39 L396.67,76.68 L397.38,76.98 L398.08,77.30 L398.79,77.62 L399.50,77.96 L400.21,78.31 L400.92,78.67 L401.62,79.05 L402.33,79.45 L403.04,79.86 L403.75,80.29 L404.46,80.73 L405.17,81.20 L405.88,81.69 L406.58,82.20 L407.29,82.72 L408.00,83.24 L408.71,83.76 L409.42,84.28 L410.12,84.80 L410.83,85.32 L411.54,85.83 L412.25,86.35 L412.96,86.87 L413.67,87.39 L414.38,87.91 L415.08,88.43 L415.79,88.95 L416.50,89.47 L417.21,89.99 L417.92,90.51 L418.62,91.03 L419.33,91.55 L420.04,92.07 L420.75,92.59 L421.46,93.11 L422.17,93.63 L422.88,94.15 L423.58,94.67 L424.29,95.19 L425.00,95.71 L425.71,96.23 L426.42,96.75 L427.12,97.27 L427.83,97.79 L428.54,98.31 L429.25,98.83 L429.96,99.35 L430.67,99.87 L431.38,100.39 L432.08,100.91 L432.79,101.42 L433.50,101.94 L434.21,102.46 L434.92,102.98 L435.62,103.50 L436.33,104.02 L437.04,104.54 L437.75,105.06 L438.46,105.58 L439.17,106.10 L439.88,106.62 L440.58,107.14 L441.29,107.66 L442.00,108.18 L442.71,108.70 L443.42,109.22 L444.12,109.74 L444.83,110.26 L445.54,110.78 L446.25,111.30 L446.96,111.82 L447.67,112.34 L448.38,112.86 L449.08,113.38 L449.79,113.90 L450.50,114.42 L451.21,114.94 L451.92,115.46 L452.62,115.98 L453.33,116.50 L454.04,117.01 L454.75,117.53 L455.46,118.05 L456.17,118.57 L456.88,119.09 L457.58,119.61 L458.29,120.13 L459.00,120.65 L459.71,121.17 L460.42,121.69 L461.12,122.21 L461.83,122.73 L462.54,123.25 L463.25,123.77 L463.96,124.29 L464.67,124.81 L465.38,125.33 L466.08,125.85 L466.79,126.37 L467.50,126.89 L468.21,127.41 L468.92,127.93 L469.62,128.45 L470.33,128.97 L471.04,129.49 L471.75,130.01 L472.46,130.53 L473.17,131.05 L473.88,131.57 L474.58,132.09 L475.29,132.60 L476.00,133.12 L476.71,133.64 L477.42,134.16 L478.12,134.68 L478.83,135.20 L479.54,135.72 L480.25,136.24 L480.96,136.76 L481.67,137.28 L482.38,137.80 L483.08,138.32 L483.79,138.84 L484.50,139.36 L485.21,139.88 L485.92,140.40 L486.62,140.92 L487.33,141.44 L488.04,141.96 L488.75,142.48 L489.46,143.00 L490.17,143.52 L490.88,144.04 L491.58,144.56 L492.29,145.08 L493.00,145.60 L493.71,146.12 L494.42,146.64 L495.12,147.16 L495.83,147.68 L496.54,148.19 L497.25,148.71 L497.96,149.23 L498.67,149.75 L499.38,150.27 L500.08,150.79 L500.79,151.31 L501.50,151.83 L502.21,152.35 L502.92,152.87 L503.62,153.39 L504.33,153.91 L505.04,154.43 L505.75,154.95 L506.46,155.47 L507.17,155.99 L507.88,156.51 L508.58,157.03 L509.29,157.55 L510.00,158.07 L510.71,158.59 L511.42,159.11 L512.12,159.63 L512.83,160.15 L513.54,160.67 L514.25,161.19 L514.96,161.71 L515.67,162.23 L516.38,162.75 L517.08,163.27 L517.79,163.78 L518.50,164.30 L519.21,164.82 L519.92,165.34 L520.62,165.86 L521.33,166.38 L522.04,166.90 L522.75,167.42 L523.46,167.94 L524.17,168.46 L524.88,168.98 L525.58,169.50 L526.29,170.02 L527.00,170.54 L527.71,171.06 L528.42,171.58 L529.12,172.10 L529.83,172.62 L530.54,173.14 L531.25,173.66 L531.96,174.18 L532.67,174.70 L533.38,175.22 L534.08,175.74 L534.79,176.26 L535.50,176.78 L536.21,177.30 L536.92,177.82 L537.62,178.34 L538.33,178.86 L539.04,179.37 L539.75,179.89 L540.46,180.41 L541.17,180.93 L541.88,181.45 L542.58,181.97 L543.29,182.49 L544.00,183.01 L544.71,183.53 L545.42,184.05 L546.12,184.57 L546.83,185.09 L547.54,185.61 L548.25,186.13 L548.96,186.65 L549.67,187.17 L550.38,187.69 L551.08,188.21 L551.79,188.73 L552.50,189.25 L553.21,189.77 L553.92,190.29 L554.62,190.81 L555.33,191.33 L556.04,191.85 L556.75,192.37 L557.46,192.89 L558.17,193.41 L558.88,193.93 L559.58,194.45 L560.29,194.96 L561.00,195.48 L561.71,196.00 L562.42,196.52 L563.12,197.04 L563.83,197.56 L564.54,198.08 L565.25,198.60 L565.96,199.12 L566.67,199.64 L567.38,200.16 L568.08,200.68 L568.79,201.20 L569.50,201.72" stroke="#000" stroke-opacity="0.8" stroke-width="1" stroke-dasharray="1.9,3.8"/>
<path d="M357.00,68.88 L357.47,68.92 L357.93,68.96 L358.40,68.99 L358.86,69.04 L359.33,69.08 L359.80,69.12 L360.26,69.16 L360.73,69.20 L361.19,69.25 L361.66,69.29 L362.12,69.34 L362.59,69.38 L363.06,69.43 L363.52,69.48 L363.99,69.53 L364.45,69.58 L364.92,69.63 L365.39,69.68 L365.85,69.73 L366.32,69.78 L366.78,69.84 L367.25,69.89 L367.72,69.95 L368.18,70.00 L368.65,70.06 L369.11,70.12 L369.58,70.18 L370.04,70.24 L370.51,70.30 L370.98,70.37 L371.44,70.43 L371.91,70.50 L372.37,70.57 L372.84,70.63 L373.31,70.70 L373.77,70.77 L374.24,70.85 L374.70,70.92 L375.17,70.99 L375.64,71.07 L376.10,71.15 L376.57,71.23 L377.03,71.31 L377.50,71.39 L377.96,71.47 L378.43,71.56 L378.90,71.64 L379.36,71.73 L379.83,71.82 L380.29,71.91 L380.76,72.01 L381.23,72.10 L381.69,72.20 L382.16,72.30 L382.62,72.40 L383.09,72.50 L383.56,72.61 L384.02,72.71 L384.49,72.82 L384.95,72.94 L385.42,73.05 L385.88,73.17 L386.35,73.28 L386.82,73.41 L387.28,73.53 L387.75,73.66 L388.21,73.78 L388.68,73.92 L389.15,74.05 L389.61,74.19 L390.08,74.33 L390.54,74.47 L391.01,74.62 L391.48,74.77 L391.94,74.92 L392.41,75.08 L392.87,75.24 L393.34,75.40 L393.80,75.57 L394.27,75.74 L394.74,75.91 L395.20,76.09 L395.67,76.27 L396.13,76.46 L396.60,76.65 L397.07,76.85 L397.53,77.05 L398.00,77.26 L398.46,77.47 L398.93,77.69 L399.40,77.91 L399.86,78.13 L400.33,78.37 L400.79,78.61 L401.26,78.85 L401.72,79.11 L402.19,79.37 L402.66,79.63 L403.12,79.90 L403.59,80.19 L404.05,80.47 L404.52,80.77 L404.99,81.08 L405.45,81.39 L405.92,81.72 L406.38,82.05 L406.85,82.40 L407.32,82.75 L407.78,83.12 L408.25,83.49 L408.71,83.88 L409.18,84.29 L409.64,84.70 L410.11,85.14 L410.58,85.58 L411.04,86.04 L411.51,86.52 L411.97,87.02 L412.44,87.54 L412.91,88.07 L413.37,88.63 L413.84,89.21 L414.30,89.82 L414.77,90.45 L415.24,91.11 L415.70,91.80 L416.17,92.53 L416.63,93.29 L417.10,94.08 L417.56,94.93 L418.03,95.81 L418.50,96.75 L418.96,97.74 L419.43,98.80 L419.89,99.92 L420.36,101.12 L420.83,102.41 L421.29,103.80 L421.76,105.30 L422.22,106.93 L422.69,108.73 L423.16,110.70 L423.62,112.90 L424.09,115.38 L424.55,118.21 L425.02,121.50 L425.48,125.42 L425.95,130.24 L426.42,136.48 L426.58,139.25 L426.64,140.19 L426.69,141.13 L426.73,142.07 L426.78,143.01 L426.82,143.95 L426.86,144.89 L426.90,145.83 L426.94,146.77 L426.98,147.71 L427.02,148.65 L427.05,149.59 L427.08,150.53 L427.11,151.47 L427.14,152.41 L427.17,153.35 L427.20,154.29 L427.22,155.24 L427.25,156.18 L427.27,157.12 L427.30,158.06 L427.32,159.00 L427.34,159.94 L427.36,160.88 L427.38,161.82 L427.40,162.76 L427.42,163.70 L427.43,164.64 L427.45,165.58 L427.47,166.52 L427.48,167.46 L427.49,168.40 L427.51,169.34 L427.52,170.28 L427.53,171.22 L427.55,172.16 L427.56,173.10 L427.57,174.04 L427.58,174.98 L427.59,175.92 L427.60,176.86 L427.61,177.80 L427.62,178.74 L427.63,179.68 L427.64,180.62 L427.64,181.56 L427.65,182.50 L427.66,183.44 L427.67,184.38 L427.67,185.32 L427.68,186.26 L427.69,187.20 L427.69,188.14 L427.70,189.08 L427.70,190.02 L427.71,190.96 L427.71,191.90 L427.72,192.84 L427.72,193.78 L427.73,194.72 L427.73,195.66 L427.74,196.60 L427.74,197.54 L427.74,198.48 L427.75,199.42 L427.75,200.36 L427.75,201.30 L427.76,202.24 L427.76,203.18 L427.76,204.12 L427.77,205.06 L427.77,206.00 L427.77,206.94 L427.77,207.88 L427.78,208.82 L427.78,209.76 L427.78,210.70 L427.78,211.64 L427.79,212.58 L427.79,213.52 L427.79,214.46 L427.79,215.40 L427.79,216.34 L427.79,217.28 L427.80,218.22 L427.80,219.16 L427.80,220.10 L427.80,221.04 L427.80,221.98 L427.80,222.92 L427.80,223.86 L427.81,224.80 L427.81,225.74 L427.81,226.68 L427.81,227.62 L427.81,228.56 L427.81,229.50 L427.81,230.44 L427.81,231.38 L427.81,232.32 L427.81,233.26 L427.82,234.20 L427.82,235.14 L427.82,236.08 L427.82,237.02 L427.82,237.96 L427.82,238.90 L427.82,239.84 L427.82,240.78 L427.82,241.72 L427.82,242.66 L427.82,243.60 L427.82,244.54 L427.82,245.48 L427.82,246.42 L427.82,247.36 L427.82,248.30 L427.82,249.25 L427.82,250.19 L427.82,251.13 L427.83,252.07 L427.83,253.01 L427.83,253.95 L427.83,254.89 L427.83,255.83 L427.83,256.77 L427.83,257.71 L427.83,258.65 L427.83,259.59 L427.83,260.53 L427.83,261.47 L427.83,262.41 L427.83,263.35 L427.83,264.29 L427.83,265.23 L427.83,266.17 L427.83,267.11 L427.83,268.05 L427.83,268.99 L427.83,269.93 L427.83,270.87 L427.83,271.81 L427.83,272.75 L427.83,273.69 L427.83,274.63 L427.83,275.57 L427.83,276.51 L427.83,277.45 L427.83,278.39 L427.83,279.33 L427.83,280.27 L427.83,281.21 L427.83,282.15 L427.83,283.09 L427.83,284.03 L427.83,284.97 L427.83,285.91 L427.83,286.85 L427.83,287.79 L427.83,288.73 L427.83,289.67 L427.83,290.61 L427.83,291.55 L427.83,292.49 L427.83,293.43 L427.83,294.37 L427.83,295.31 L427.83,296.25 L427.83,297.19 L427.83,298.13 L427.83,299.07 L427.83,300.01 L427.83,300.95 L427.83,301.89 L427.83,302.83 L427.83,303.77 L427.83,304.71 L427.83,305.65 L427.83,306.59 L427.83,307.53 L427.83,308.47 L427.83,309.41 L427.83,310.35 L427.83,311.29 L427.83,312.23 L427.83,313.17 L427.83,314.11 L427.83,315.05 L427.83,315.99 L427.83,316.93 L427.83,317.87 L427.83,318.81 L427.83,319.75 L427.83,320.69 L427.83,321.63 L427.83,322.57 L427.83,323.51 L427.83,324.45 L427.83,325.39 L427.83,326.33" stroke="#000" stroke-width="2.25"/>
</g>
<g stroke="#000" fill="none">
<rect x="357.00" y="66.50" width="212.50" height="155.90" stroke-width="1.2"/>
<path d="M357.00,222.40 v-5.4 M357.00,66.50 v5.4 M378.32,222.40 v-2.9 M378.32,66.50 v2.9 M390.80,222.40 v-2.9 M390.80,66.50 v2.9 M399.65,222.40 v-2.9 M399.65,66.50 v2.9 M406.51,222.40 v-2.9 M406.51,66.50 v2.9 M412.12,222.40 v-2.9 M412.12,66.50 v2.9 M416.86,222.40 v-2.9 M416.86,66.50 v2.9 M420.97,222.40 v-2.9 M420.97,66.50 v2.9 M424.59,222.40 v-2.9 M424.59,66.50 v2.9 M427.83,222.40 v-5.4 M427.83,66.50 v5.4 M449.16,222.40 v-2.9 M449.16,66.50 v2.9 M461.63,222.40 v-2.9 M461.63,66.50 v2.9 M470.48,222.40 v-2.9 M470.48,66.50 v2.9 M477.34,222.40 v-2.9 M477.34,66.50 v2.9 M482.95,222.40 v-2.9 M482.95,66.50 v2.9 M487.69,222.40 v-2.9 M487.69,66.50 v2.9 M491.80,222.40 v-2.9 M491.80,66.50 v2.9 M495.43,222.40 v-2.9 M495.43,66.50 v2.9 M498.67,222.40 v-5.4 M498.67,66.50 v5.4 M519.99,222.40 v-2.9 M519.99,66.50 v2.9 M532.46,222.40 v-2.9 M532.46,66.50 v2.9 M541.31,222.40 v-2.9 M541.31,66.50 v2.9 M548.18,222.40 v-2.9 M548.18,66.50 v2.9 M553.79,222.40 v-2.9 M553.79,66.50 v2.9 M558.53,222.40 v-2.9 M558.53,66.50 v2.9 M562.64,222.40 v-2.9 M562.64,66.50 v2.9 M566.26,222.40 v-2.9 M566.26,66.50 v2.9 M569.50,222.40 v-5.4 M569.50,66.50 v5.4 M357.00,66.50 h5.4 M569.50,66.50 h-5.4 M357.00,102.82 h2.9 M569.50,102.82 h-2.9 M357.00,93.67 h2.9 M569.50,93.67 h-2.9 M357.00,87.18 h2.9 M569.50,87.18 h-2.9 M357.00,82.14 h2.9 M569.50,82.14 h-2.9 M357.00,78.03 h2.9 M569.50,78.03 h-2.9 M357.00,74.55 h2.9 M569.50,74.55 h-2.9 M357.00,71.54 h2.9 M569.50,71.54 h-2.9 M357.00,68.88 h2.9 M569.50,68.88 h-2.9 M357.00,118.47 h5.4 M569.50,118.47 h-5.4 M357.00,154.79 h2.9 M569.50,154.79 h-2.9 M357.00,145.64 h2.9 M569.50,145.64 h-2.9 M357.00,139.15 h2.9 M569.50,139.15 h-2.9 M357.00,134.11 h2.9 M569.50,134.11 h-2.9 M357.00,130.00 h2.9 M569.50,130.00 h-2.9 M357.00,126.52 h2.9 M569.50,126.52 h-2.9 M357.00,123.50 h2.9 M569.50,123.50 h-2.9 M357.00,120.84 h2.9 M569.50,120.84 h-2.9 M357.00,170.43 h5.4 M569.50,170.43 h-5.4 M357.00,206.76 h2.9 M569.50,206.76 h-2.9 M357.00,197.61 h2.9 M569.50,197.61 h-2.9 M357.00,191.11 h2.9 M569.50,191.11 h-2.9 M357.00,186.08 h2.9 M569.50,186.08 h-2.9 M357.00,181.96 h2.9 M569.50,181.96 h-2.9 M357.00,178.48 h2.9 M569.50,178.48 h-2.9 M357.00,175.47 h2.9 M569.50,175.47 h-2.9 M357.00,172.81 h2.9 M569.50,172.81 h-2.9 M357.00,222.40 h5.4 M569.50,222.40 h-5.4" stroke-width="1"/>
</g>
<g class="t" font-size="16.5">
<text x="314.0" y="73.60" font-size="16.5">10<tspan font-size="14" dx="-0.3" dy="-7.4">+0</tspan></text>
<text x="314.0" y="125.57" font-size="16.5">10<tspan font-size="14" dx="-0.3" dy="-7.4">−1</tspan></text>
<text x="314.0" y="177.53" font-size="16.5">10<tspan font-size="14" dx="-0.3" dy="-7.4">−2</tspan></text>
<text x="314.0" y="229.50" font-size="16.5">10<tspan font-size="14" dx="-0.3" dy="-7.4">−3</tspan></text>
<text x="357.00" y="244.7" text-anchor="middle">0</text>
<text x="427.83" y="244.7" text-anchor="middle">1</text>
<text x="498.67" y="244.7" text-anchor="middle">10</text>
<text x="569.50" y="244.7" text-anchor="middle">100</text>
</g>
</svg></body></html>
